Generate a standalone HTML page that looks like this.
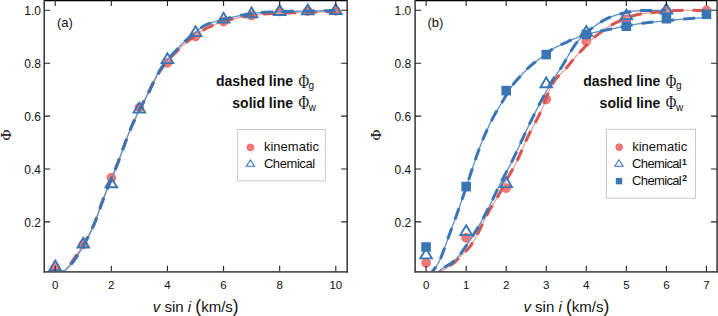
<!DOCTYPE html>
<html><head><meta charset="utf-8"><style>
html,body{margin:0;padding:0;background:#fff;}
body{width:718px;height:316px;overflow:hidden;font-family:"Liberation Sans",sans-serif;}
svg{display:block;}
</style></head><body>
<svg width="718" height="316" viewBox="0 0 718 316">
<defs><clipPath id="ca"><rect x="44.2" y="0" width="303" height="271.9"/></clipPath><clipPath id="cb"><rect x="415.1" y="0" width="302" height="271.9"/></clipPath></defs>
<circle cx="55.20" cy="267.80" r="4.4" fill="#f67878" stroke="#ee5c5c" stroke-width="0.8"/>
<circle cx="83.26" cy="244.50" r="4.4" fill="#f67878" stroke="#ee5c5c" stroke-width="0.8"/>
<circle cx="111.32" cy="177.70" r="4.4" fill="#f67878" stroke="#ee5c5c" stroke-width="0.8"/>
<circle cx="139.38" cy="107.50" r="4.4" fill="#f67878" stroke="#ee5c5c" stroke-width="0.8"/>
<circle cx="167.44" cy="62.80" r="4.4" fill="#f67878" stroke="#ee5c5c" stroke-width="0.8"/>
<circle cx="195.50" cy="36.50" r="4.4" fill="#f67878" stroke="#ee5c5c" stroke-width="0.8"/>
<circle cx="223.56" cy="21.60" r="4.4" fill="#f67878" stroke="#ee5c5c" stroke-width="0.8"/>
<circle cx="251.62" cy="15.50" r="4.4" fill="#f67878" stroke="#ee5c5c" stroke-width="0.8"/>
<circle cx="279.68" cy="11.50" r="4.4" fill="#f67878" stroke="#ee5c5c" stroke-width="0.8"/>
<circle cx="307.74" cy="11.00" r="4.4" fill="#f67878" stroke="#ee5c5c" stroke-width="0.8"/>
<circle cx="335.80" cy="10.80" r="4.4" fill="#f67878" stroke="#ee5c5c" stroke-width="0.8"/>
<path d="M60.50,274.60 L61.08,274.08 L61.65,273.55 L62.23,273.02 L62.80,272.48 L63.38,271.93 L63.95,271.38 L64.53,270.81 L65.10,270.23 L65.68,269.64 L66.25,269.02 L66.83,268.39 L67.40,267.74 L67.98,267.06 L68.55,266.37 L69.13,265.64 L69.70,264.89 L70.28,264.11 L70.85,263.32 L71.43,262.51 L72.00,261.69 L72.58,260.86 L73.15,260.03 L73.73,259.20 L74.30,258.37 L74.88,257.55 L75.45,256.73 L76.03,255.92 L76.60,255.10 L77.18,254.29 L77.75,253.46 L78.33,252.63 L78.90,251.79 L79.48,250.94 L80.06,250.08 L80.63,249.20 L81.21,248.30 L81.78,247.39 L82.36,246.46 L82.93,245.52 L83.51,244.57 L84.08,243.60 L84.66,242.61 L85.23,241.62 L85.81,240.61 L86.38,239.59 L86.96,238.55 L87.53,237.51 L88.11,236.45 L88.68,235.38 L89.26,234.30 L89.83,233.21 L90.41,232.10 L90.98,230.97 L91.56,229.81 L92.13,228.61 L92.71,227.38 L93.28,226.10 L93.86,224.78 L94.43,223.40 L95.01,221.97 L95.58,220.50 L96.16,218.98 L96.73,217.44 L97.31,215.86 L97.88,214.26 L98.46,212.64 L99.04,211.01 L99.61,209.37 L100.19,207.73 L100.76,206.10 L101.34,204.47 L101.91,202.86 L102.49,201.27 L103.06,199.70 L103.64,198.16 L104.21,196.65 L104.79,195.16 L105.36,193.70 L105.94,192.25 L106.51,190.81 L107.09,189.39 L107.66,187.99 L108.24,186.59 L108.81,185.20 L109.39,183.81 L109.96,182.43 L110.54,181.04 L111.11,179.65 L111.69,178.26 L112.26,176.87 L112.84,175.47 L113.41,174.06 L113.99,172.64 L114.56,171.22 L115.14,169.78 L115.71,168.33 L116.29,166.88 L116.86,165.41 L117.44,163.92 L118.02,162.42 L118.59,160.91 L119.17,159.38 L119.74,157.83 L120.32,156.27 L120.89,154.70 L121.47,153.12 L122.04,151.53 L122.62,149.94 L123.19,148.35 L123.77,146.76 L124.34,145.17 L124.92,143.59 L125.49,142.01 L126.07,140.45 L126.64,138.90 L127.22,137.37 L127.79,135.86 L128.37,134.37 L128.94,132.90 L129.52,131.46 L130.09,130.04 L130.67,128.66 L131.24,127.31 L131.82,125.97 L132.39,124.67 L132.97,123.38 L133.54,122.11 L134.12,120.85 L134.69,119.60 L135.27,118.37 L135.84,117.14 L136.42,115.93 L136.99,114.73 L137.57,113.54 L138.15,112.37 L138.72,111.21 L139.30,110.07 L139.87,108.95 L140.45,107.85 L141.02,106.76 L141.60,105.69 L142.17,104.63 L142.75,103.59 L143.32,102.54 L143.90,101.50 L144.47,100.46 L145.05,99.42 L145.62,98.37 L146.20,97.31 L146.77,96.24 L147.35,95.16 L147.92,94.05 L148.50,92.93 L149.07,91.79 L149.65,90.65 L150.22,89.49 L150.80,88.33 L151.37,87.16 L151.95,85.99 L152.52,84.83 L153.10,83.68 L153.67,82.53 L154.25,81.40 L154.82,80.29 L155.40,79.19 L155.97,78.11 L156.55,77.06 L157.13,76.02 L157.70,75.01 L158.28,74.02 L158.85,73.05 L159.43,72.10 L160.00,71.17 L160.58,70.27 L161.15,69.39 L161.73,68.53 L162.30,67.69 L162.88,66.88 L163.45,66.08 L164.03,65.31 L164.60,64.55 L165.18,63.82 L165.75,63.10 L166.33,62.39 L166.90,61.70 L167.48,61.03 L168.05,60.37 L168.63,59.72 L169.20,59.08 L169.78,58.46 L170.35,57.84 L170.93,57.23 L171.50,56.63 L172.08,56.04 L172.65,55.45 L173.23,54.86 L173.80,54.28 L174.38,53.71 L174.95,53.13 L175.53,52.56 L176.11,51.99 L176.68,51.41 L177.26,50.84 L177.83,50.26 L178.41,49.69 L178.98,49.11 L179.56,48.54 L180.13,47.98 L180.71,47.41 L181.28,46.85 L181.86,46.30 L182.43,45.76 L183.01,45.23 L183.58,44.70 L184.16,44.19 L184.73,43.69 L185.31,43.20 L185.88,42.72 L186.46,42.24 L187.03,41.77 L187.61,41.31 L188.18,40.86 L188.76,40.41 L189.33,39.96 L189.91,39.52 L190.48,39.08 L191.06,38.64 L191.63,38.21 L192.21,37.77 L192.78,37.33 L193.36,36.90 L193.93,36.47 L194.51,36.04 L195.09,35.61 L195.66,35.18 L196.24,34.76 L196.81,34.34 L197.39,33.93 L197.96,33.52 L198.54,33.11 L199.11,32.71 L199.69,32.32 L200.26,31.93 L200.84,31.55 L201.41,31.18 L201.99,30.82 L202.56,30.46 L203.14,30.12 L203.71,29.78 L204.29,29.45 L204.86,29.12 L205.44,28.81 L206.01,28.50 L206.59,28.20 L207.16,27.91 L207.74,27.62 L208.31,27.34 L208.89,27.07 L209.46,26.80 L210.04,26.54 L210.61,26.28 L211.19,26.02 L211.76,25.77 L212.34,25.53 L212.91,25.29 L213.49,25.05 L214.07,24.82 L214.64,24.59 L215.22,24.37 L215.79,24.15 L216.37,23.93 L216.94,23.72 L217.52,23.51 L218.09,23.31 L218.67,23.10 L219.24,22.91 L219.82,22.71 L220.39,22.52 L220.97,22.33 L221.54,22.14 L222.12,21.96 L222.69,21.78 L223.27,21.61 L223.84,21.43 L224.42,21.26 L224.99,21.09 L225.57,20.93 L226.14,20.77 L226.72,20.61 L227.29,20.45 L227.87,20.29 L228.44,20.14 L229.02,19.99 L229.59,19.84 L230.17,19.69 L230.74,19.55 L231.32,19.40 L231.89,19.26 L232.47,19.12 L233.05,18.98 L233.62,18.85 L234.20,18.71 L234.77,18.58 L235.35,18.45 L235.92,18.32 L236.50,18.19 L237.07,18.07 L237.65,17.94 L238.22,17.82 L238.80,17.70 L239.37,17.58 L239.95,17.46 L240.52,17.34 L241.10,17.23 L241.67,17.12 L242.25,17.01 L242.82,16.90 L243.40,16.79 L243.97,16.68 L244.55,16.58 L245.12,16.48 L245.70,16.38 L246.27,16.28 L246.85,16.19 L247.42,16.09 L248.00,16.00 L248.57,15.91 L249.15,15.82 L249.72,15.73 L250.30,15.64 L250.87,15.56 L251.45,15.48 L252.03,15.40 L252.60,15.32 L253.18,15.24 L253.75,15.16 L254.33,15.09 L254.90,15.02 L255.48,14.95 L256.05,14.88 L256.63,14.81 L257.20,14.74 L257.78,14.68 L258.35,14.62 L258.93,14.56 L259.50,14.50 L260.08,14.44 L260.65,14.38 L261.23,14.33 L261.80,14.27 L262.38,14.22 L262.95,14.17 L263.53,14.12 L264.10,14.07 L264.68,14.03 L265.25,13.98 L265.83,13.94 L266.40,13.90 L266.98,13.86 L267.55,13.82 L268.13,13.78 L268.70,13.74 L269.28,13.70 L269.85,13.67 L270.43,13.64 L271.01,13.60 L271.58,13.57 L272.16,13.54 L272.73,13.51 L273.31,13.48 L273.88,13.46 L274.46,13.43 L275.03,13.40 L275.61,13.38 L276.18,13.35 L276.76,13.33 L277.33,13.31 L277.91,13.28 L278.48,13.26 L279.06,13.24 L279.63,13.22 L280.21,13.20 L280.78,13.18 L281.36,13.16 L281.93,13.14 L282.51,13.12 L283.08,13.10 L283.66,13.09 L284.23,13.07 L284.81,13.05 L285.38,13.03 L285.96,13.02 L286.53,13.00 L287.11,12.98 L287.68,12.97 L288.26,12.95 L288.83,12.93 L289.41,12.92 L289.98,12.90 L290.56,12.88 L291.14,12.86 L291.71,12.85 L292.29,12.83 L292.86,12.81 L293.44,12.79 L294.01,12.77 L294.59,12.76 L295.16,12.74 L295.74,12.72 L296.31,12.70 L296.89,12.68 L297.46,12.66 L298.04,12.65 L298.61,12.63 L299.19,12.61 L299.76,12.59 L300.34,12.57 L300.91,12.55 L301.49,12.53 L302.06,12.52 L302.64,12.50 L303.21,12.48 L303.79,12.46 L304.36,12.44 L304.94,12.42 L305.51,12.41 L306.09,12.39 L306.66,12.37 L307.24,12.35 L307.81,12.34 L308.39,12.32 L308.96,12.30 L309.54,12.28 L310.12,12.27 L310.69,12.25 L311.27,12.23 L311.84,12.21 L312.42,12.20 L312.99,12.18 L313.57,12.17 L314.14,12.15 L314.72,12.13 L315.29,12.12 L315.87,12.10 L316.44,12.09 L317.02,12.07 L317.59,12.06 L318.17,12.04 L318.74,12.03 L319.32,12.02 L319.89,12.00 L320.47,11.99 L321.04,11.98 L321.62,11.96 L322.19,11.95 L322.77,11.94 L323.34,11.93 L323.92,11.92 L324.49,11.91 L325.07,11.90 L325.64,11.88 L326.22,11.87 L326.79,11.86 L327.37,11.85 L327.94,11.84 L328.52,11.83 L329.10,11.83 L329.67,11.82 L330.25,11.81 L330.82,11.80 L331.40,11.79 L331.97,11.78 L332.55,11.77 L333.12,11.77 L333.70,11.76 L334.27,11.75 L334.85,11.74 L335.42,11.73" fill="none" stroke="#f2a0a0" stroke-width="1.3" clip-path="url(#ca)"/><path d="M60.50,274.60 L61.08,274.08 L61.65,273.55 L62.23,273.02 L62.80,272.48 L63.38,271.93 L63.95,271.38 L64.53,270.81 L65.10,270.23 L65.68,269.64 L66.25,269.02 L66.83,268.39 L67.40,267.74 L67.98,267.06 L68.55,266.37 L69.13,265.64 L69.70,264.89 L70.28,264.11 L70.85,263.32 L71.43,262.51 L72.00,261.69 L72.58,260.86 L73.15,260.03 L73.73,259.20 L74.30,258.37 L74.88,257.55 L75.45,256.73 L76.03,255.92 L76.60,255.10 L77.18,254.29 L77.75,253.46 L78.33,252.63 L78.90,251.79 L79.48,250.94 L80.06,250.08 L80.63,249.20 L81.21,248.30 L81.78,247.39 L82.36,246.46 L82.93,245.52 L83.51,244.57 L84.08,243.60 L84.66,242.61 L85.23,241.62 L85.81,240.61 L86.38,239.59 L86.96,238.55 L87.53,237.51 L88.11,236.45 L88.68,235.38 L89.26,234.30 L89.83,233.21 L90.41,232.10 L90.98,230.97 L91.56,229.81 L92.13,228.61 L92.71,227.38 L93.28,226.10 L93.86,224.78 L94.43,223.40 L95.01,221.97 L95.58,220.50 L96.16,218.98 L96.73,217.44 L97.31,215.86 L97.88,214.26 L98.46,212.64 L99.04,211.01 L99.61,209.37 L100.19,207.73 L100.76,206.10 L101.34,204.47 L101.91,202.86 L102.49,201.27 L103.06,199.70 L103.64,198.16 L104.21,196.65 L104.79,195.16 L105.36,193.70 L105.94,192.25 L106.51,190.81 L107.09,189.39 L107.66,187.99 L108.24,186.59 L108.81,185.20 L109.39,183.81 L109.96,182.43 L110.54,181.04 L111.11,179.65 L111.69,178.26 L112.26,176.87 L112.84,175.47 L113.41,174.06 L113.99,172.64 L114.56,171.22 L115.14,169.78 L115.71,168.33 L116.29,166.88 L116.86,165.41 L117.44,163.92 L118.02,162.42 L118.59,160.91 L119.17,159.38 L119.74,157.83 L120.32,156.27 L120.89,154.70 L121.47,153.12 L122.04,151.53 L122.62,149.94 L123.19,148.35 L123.77,146.76 L124.34,145.17 L124.92,143.59 L125.49,142.01 L126.07,140.45 L126.64,138.90 L127.22,137.37 L127.79,135.86 L128.37,134.37 L128.94,132.90 L129.52,131.46 L130.09,130.04 L130.67,128.66 L131.24,127.31 L131.82,125.97 L132.39,124.67 L132.97,123.38 L133.54,122.11 L134.12,120.85 L134.69,119.60 L135.27,118.37 L135.84,117.14 L136.42,115.93 L136.99,114.73 L137.57,113.54 L138.15,112.37 L138.72,111.21 L139.30,110.07 L139.87,108.95 L140.45,107.85 L141.02,106.76 L141.60,105.69 L142.17,104.63 L142.75,103.59 L143.32,102.54 L143.90,101.50 L144.47,100.46 L145.05,99.42 L145.62,98.37 L146.20,97.31 L146.77,96.24 L147.35,95.16 L147.92,94.05 L148.50,92.93 L149.07,91.79 L149.65,90.65 L150.22,89.49 L150.80,88.33 L151.37,87.16 L151.95,85.99 L152.52,84.83 L153.10,83.68 L153.67,82.53 L154.25,81.40 L154.82,80.29 L155.40,79.19 L155.97,78.11 L156.55,77.06 L157.13,76.02 L157.70,75.01 L158.28,74.02 L158.85,73.05 L159.43,72.10 L160.00,71.17 L160.58,70.27 L161.15,69.39 L161.73,68.53 L162.30,67.69 L162.88,66.88 L163.45,66.08 L164.03,65.31 L164.60,64.55 L165.18,63.82 L165.75,63.10 L166.33,62.39 L166.90,61.70 L167.48,61.03 L168.05,60.37 L168.63,59.72 L169.20,59.08 L169.78,58.46 L170.35,57.84 L170.93,57.23 L171.50,56.63 L172.08,56.04 L172.65,55.45 L173.23,54.86 L173.80,54.28 L174.38,53.71 L174.95,53.13 L175.53,52.56 L176.11,51.99 L176.68,51.41 L177.26,50.84 L177.83,50.26 L178.41,49.69 L178.98,49.11 L179.56,48.54 L180.13,47.98 L180.71,47.41 L181.28,46.85 L181.86,46.30 L182.43,45.76 L183.01,45.23 L183.58,44.70 L184.16,44.19 L184.73,43.69 L185.31,43.20 L185.88,42.72 L186.46,42.24 L187.03,41.77 L187.61,41.31 L188.18,40.86 L188.76,40.41 L189.33,39.96 L189.91,39.52 L190.48,39.08 L191.06,38.64 L191.63,38.21 L192.21,37.77 L192.78,37.33 L193.36,36.90 L193.93,36.47 L194.51,36.04 L195.09,35.61 L195.66,35.18 L196.24,34.76 L196.81,34.34 L197.39,33.93 L197.96,33.52 L198.54,33.11 L199.11,32.71 L199.69,32.32 L200.26,31.93 L200.84,31.55 L201.41,31.18 L201.99,30.82 L202.56,30.46 L203.14,30.12 L203.71,29.78 L204.29,29.45 L204.86,29.12 L205.44,28.81 L206.01,28.50 L206.59,28.20 L207.16,27.91 L207.74,27.62 L208.31,27.34 L208.89,27.07 L209.46,26.80 L210.04,26.54 L210.61,26.28 L211.19,26.02 L211.76,25.77 L212.34,25.53 L212.91,25.29 L213.49,25.05 L214.07,24.82 L214.64,24.59 L215.22,24.37 L215.79,24.15 L216.37,23.93 L216.94,23.72 L217.52,23.51 L218.09,23.31 L218.67,23.10 L219.24,22.91 L219.82,22.71 L220.39,22.52 L220.97,22.33 L221.54,22.14 L222.12,21.96 L222.69,21.78 L223.27,21.61 L223.84,21.43 L224.42,21.26 L224.99,21.09 L225.57,20.93 L226.14,20.77 L226.72,20.61 L227.29,20.45 L227.87,20.29 L228.44,20.14 L229.02,19.99 L229.59,19.84 L230.17,19.69 L230.74,19.55 L231.32,19.40 L231.89,19.26 L232.47,19.12 L233.05,18.98 L233.62,18.85 L234.20,18.71 L234.77,18.58 L235.35,18.45 L235.92,18.32 L236.50,18.19 L237.07,18.07 L237.65,17.94 L238.22,17.82 L238.80,17.70 L239.37,17.58 L239.95,17.46 L240.52,17.34 L241.10,17.23 L241.67,17.12 L242.25,17.01 L242.82,16.90 L243.40,16.79 L243.97,16.68 L244.55,16.58 L245.12,16.48 L245.70,16.38 L246.27,16.28 L246.85,16.19 L247.42,16.09 L248.00,16.00 L248.57,15.91 L249.15,15.82 L249.72,15.73 L250.30,15.64 L250.87,15.56 L251.45,15.48 L252.03,15.40 L252.60,15.32 L253.18,15.24 L253.75,15.16 L254.33,15.09 L254.90,15.02 L255.48,14.95 L256.05,14.88 L256.63,14.81 L257.20,14.74 L257.78,14.68 L258.35,14.62 L258.93,14.56 L259.50,14.50 L260.08,14.44 L260.65,14.38 L261.23,14.33 L261.80,14.27 L262.38,14.22 L262.95,14.17 L263.53,14.12 L264.10,14.07 L264.68,14.03 L265.25,13.98 L265.83,13.94 L266.40,13.90 L266.98,13.86 L267.55,13.82 L268.13,13.78 L268.70,13.74 L269.28,13.70 L269.85,13.67 L270.43,13.64 L271.01,13.60 L271.58,13.57 L272.16,13.54 L272.73,13.51 L273.31,13.48 L273.88,13.46 L274.46,13.43 L275.03,13.40 L275.61,13.38 L276.18,13.35 L276.76,13.33 L277.33,13.31 L277.91,13.28 L278.48,13.26 L279.06,13.24 L279.63,13.22 L280.21,13.20 L280.78,13.18 L281.36,13.16 L281.93,13.14 L282.51,13.12 L283.08,13.10 L283.66,13.09 L284.23,13.07 L284.81,13.05 L285.38,13.03 L285.96,13.02 L286.53,13.00 L287.11,12.98 L287.68,12.97 L288.26,12.95 L288.83,12.93 L289.41,12.92 L289.98,12.90 L290.56,12.88 L291.14,12.86 L291.71,12.85 L292.29,12.83 L292.86,12.81 L293.44,12.79 L294.01,12.77 L294.59,12.76 L295.16,12.74 L295.74,12.72 L296.31,12.70 L296.89,12.68 L297.46,12.66 L298.04,12.65 L298.61,12.63 L299.19,12.61 L299.76,12.59 L300.34,12.57 L300.91,12.55 L301.49,12.53 L302.06,12.52 L302.64,12.50 L303.21,12.48 L303.79,12.46 L304.36,12.44 L304.94,12.42 L305.51,12.41 L306.09,12.39 L306.66,12.37 L307.24,12.35 L307.81,12.34 L308.39,12.32 L308.96,12.30 L309.54,12.28 L310.12,12.27 L310.69,12.25 L311.27,12.23 L311.84,12.21 L312.42,12.20 L312.99,12.18 L313.57,12.17 L314.14,12.15 L314.72,12.13 L315.29,12.12 L315.87,12.10 L316.44,12.09 L317.02,12.07 L317.59,12.06 L318.17,12.04 L318.74,12.03 L319.32,12.02 L319.89,12.00 L320.47,11.99 L321.04,11.98 L321.62,11.96 L322.19,11.95 L322.77,11.94 L323.34,11.93 L323.92,11.92 L324.49,11.91 L325.07,11.90 L325.64,11.88 L326.22,11.87 L326.79,11.86 L327.37,11.85 L327.94,11.84 L328.52,11.83 L329.10,11.83 L329.67,11.82 L330.25,11.81 L330.82,11.80 L331.40,11.79 L331.97,11.78 L332.55,11.77 L333.12,11.77 L333.70,11.76 L334.27,11.75 L334.85,11.74 L335.42,11.73" fill="none" stroke="#d9534f" stroke-width="3.0" stroke-dasharray="12 9" stroke-dashoffset="6.631031221076084" clip-path="url(#ca)"/>
<path d="M60.50,274.58 L61.08,274.09 L61.65,273.60 L62.23,273.11 L62.80,272.61 L63.38,272.10 L63.95,271.59 L64.53,271.07 L65.10,270.54 L65.68,270.00 L66.25,269.44 L66.83,268.88 L67.40,268.31 L67.98,267.72 L68.55,267.12 L69.13,266.50 L69.70,265.87 L70.28,265.22 L70.85,264.56 L71.43,263.88 L72.00,263.18 L72.58,262.47 L73.15,261.73 L73.73,260.97 L74.30,260.20 L74.88,259.40 L75.45,258.58 L76.03,257.74 L76.60,256.87 L77.18,255.99 L77.75,255.09 L78.33,254.17 L78.90,253.23 L79.48,252.28 L80.06,251.32 L80.63,250.35 L81.21,249.37 L81.78,248.38 L82.36,247.38 L82.93,246.37 L83.51,245.36 L84.08,244.33 L84.66,243.29 L85.23,242.25 L85.81,241.19 L86.38,240.12 L86.96,239.05 L87.53,237.96 L88.11,236.86 L88.68,235.75 L89.26,234.63 L89.83,233.49 L90.41,232.34 L90.98,231.17 L91.56,229.97 L92.13,228.74 L92.71,227.47 L93.28,226.17 L93.86,224.82 L94.43,223.42 L95.01,221.97 L95.58,220.48 L96.16,218.96 L96.73,217.40 L97.31,215.82 L97.88,214.22 L98.46,212.60 L99.04,210.97 L99.61,209.33 L100.19,207.69 L100.76,206.06 L101.34,204.44 L101.91,202.83 L102.49,201.25 L103.06,199.69 L103.64,198.15 L104.21,196.64 L104.79,195.16 L105.36,193.69 L105.94,192.24 L106.51,190.81 L107.09,189.39 L107.66,187.99 L108.24,186.59 L108.81,185.20 L109.39,183.81 L109.96,182.43 L110.54,181.04 L111.11,179.66 L111.69,178.27 L112.26,176.87 L112.84,175.47 L113.41,174.06 L113.99,172.64 L114.56,171.22 L115.14,169.78 L115.71,168.34 L116.29,166.88 L116.86,165.41 L117.44,163.92 L118.02,162.42 L118.59,160.91 L119.17,159.38 L119.74,157.83 L120.32,156.27 L120.89,154.70 L121.47,153.12 L122.04,151.53 L122.62,149.94 L123.19,148.34 L123.77,146.75 L124.34,145.17 L124.92,143.58 L125.49,142.01 L126.07,140.45 L126.64,138.90 L127.22,137.37 L127.79,135.86 L128.37,134.37 L128.94,132.90 L129.52,131.46 L130.09,130.05 L130.67,128.66 L131.24,127.31 L131.82,125.98 L132.39,124.67 L132.97,123.39 L133.54,122.12 L134.12,120.86 L134.69,119.62 L135.27,118.38 L135.84,117.16 L136.42,115.95 L136.99,114.74 L137.57,113.56 L138.15,112.38 L138.72,111.22 L139.30,110.07 L139.87,108.94 L140.45,107.82 L141.02,106.72 L141.60,105.64 L142.17,104.56 L142.75,103.48 L143.32,102.41 L143.90,101.34 L144.47,100.27 L145.05,99.19 L145.62,98.11 L146.20,97.01 L146.77,95.89 L147.35,94.76 L147.92,93.60 L148.50,92.43 L149.07,91.24 L149.65,90.04 L150.22,88.84 L150.80,87.63 L151.37,86.42 L151.95,85.21 L152.52,84.01 L153.10,82.82 L153.67,81.64 L154.25,80.48 L154.82,79.34 L155.40,78.23 L155.97,77.13 L156.55,76.06 L157.13,75.01 L157.70,73.99 L158.28,72.99 L158.85,72.01 L159.43,71.05 L160.00,70.11 L160.58,69.20 L161.15,68.32 L161.73,67.45 L162.30,66.61 L162.88,65.79 L163.45,64.98 L164.03,64.20 L164.60,63.43 L165.18,62.68 L165.75,61.95 L166.33,61.23 L166.90,60.52 L167.48,59.83 L168.05,59.15 L168.63,58.48 L169.20,57.82 L169.78,57.17 L170.35,56.52 L170.93,55.89 L171.50,55.25 L172.08,54.63 L172.65,54.01 L173.23,53.39 L173.80,52.77 L174.38,52.15 L174.95,51.54 L175.53,50.92 L176.11,50.30 L176.68,49.68 L177.26,49.05 L177.83,48.43 L178.41,47.80 L178.98,47.17 L179.56,46.54 L180.13,45.92 L180.71,45.31 L181.28,44.70 L181.86,44.11 L182.43,43.52 L183.01,42.95 L183.58,42.40 L184.16,41.86 L184.73,41.33 L185.31,40.82 L185.88,40.32 L186.46,39.83 L187.03,39.35 L187.61,38.88 L188.18,38.41 L188.76,37.95 L189.33,37.48 L189.91,37.02 L190.48,36.55 L191.06,36.08 L191.63,35.60 L192.21,35.12 L192.78,34.63 L193.36,34.14 L193.93,33.64 L194.51,33.14 L195.09,32.64 L195.66,32.14 L196.24,31.65 L196.81,31.15 L197.39,30.67 L197.96,30.19 L198.54,29.71 L199.11,29.25 L199.69,28.80 L200.26,28.36 L200.84,27.93 L201.41,27.52 L201.99,27.13 L202.56,26.75 L203.14,26.40 L203.71,26.06 L204.29,25.74 L204.86,25.43 L205.44,25.14 L206.01,24.87 L206.59,24.60 L207.16,24.35 L207.74,24.11 L208.31,23.89 L208.89,23.66 L209.46,23.45 L210.04,23.25 L210.61,23.05 L211.19,22.85 L211.76,22.66 L212.34,22.47 L212.91,22.29 L213.49,22.10 L214.07,21.92 L214.64,21.75 L215.22,21.57 L215.79,21.40 L216.37,21.23 L216.94,21.07 L217.52,20.90 L218.09,20.74 L218.67,20.58 L219.24,20.42 L219.82,20.27 L220.39,20.11 L220.97,19.96 L221.54,19.81 L222.12,19.66 L222.69,19.52 L223.27,19.37 L223.84,19.23 L224.42,19.09 L224.99,18.95 L225.57,18.81 L226.14,18.67 L226.72,18.53 L227.29,18.40 L227.87,18.26 L228.44,18.13 L229.02,17.99 L229.59,17.86 L230.17,17.73 L230.74,17.60 L231.32,17.47 L231.89,17.34 L232.47,17.21 L233.05,17.08 L233.62,16.95 L234.20,16.82 L234.77,16.69 L235.35,16.57 L235.92,16.44 L236.50,16.31 L237.07,16.19 L237.65,16.06 L238.22,15.94 L238.80,15.82 L239.37,15.70 L239.95,15.58 L240.52,15.46 L241.10,15.34 L241.67,15.23 L242.25,15.12 L242.82,15.01 L243.40,14.90 L243.97,14.79 L244.55,14.69 L245.12,14.59 L245.70,14.49 L246.27,14.39 L246.85,14.29 L247.42,14.20 L248.00,14.11 L248.57,14.02 L249.15,13.94 L249.72,13.86 L250.30,13.77 L250.87,13.69 L251.45,13.62 L252.03,13.54 L252.60,13.47 L253.18,13.40 L253.75,13.33 L254.33,13.26 L254.90,13.19 L255.48,13.13 L256.05,13.07 L256.63,13.01 L257.20,12.95 L257.78,12.89 L258.35,12.84 L258.93,12.78 L259.50,12.73 L260.08,12.68 L260.65,12.63 L261.23,12.58 L261.80,12.54 L262.38,12.49 L262.95,12.45 L263.53,12.40 L264.10,12.36 L264.68,12.32 L265.25,12.28 L265.83,12.24 L266.40,12.21 L266.98,12.17 L267.55,12.14 L268.13,12.10 L268.70,12.07 L269.28,12.04 L269.85,12.01 L270.43,11.98 L271.01,11.95 L271.58,11.92 L272.16,11.89 L272.73,11.87 L273.31,11.84 L273.88,11.82 L274.46,11.79 L275.03,11.77 L275.61,11.75 L276.18,11.72 L276.76,11.70 L277.33,11.68 L277.91,11.66 L278.48,11.64 L279.06,11.63 L279.63,11.61 L280.21,11.59 L280.78,11.57 L281.36,11.56 L281.93,11.54 L282.51,11.53 L283.08,11.51 L283.66,11.50 L284.23,11.49 L284.81,11.47 L285.38,11.46 L285.96,11.45 L286.53,11.44 L287.11,11.42 L287.68,11.41 L288.26,11.40 L288.83,11.39 L289.41,11.38 L289.98,11.37 L290.56,11.36 L291.14,11.35 L291.71,11.34 L292.29,11.33 L292.86,11.32 L293.44,11.31 L294.01,11.30 L294.59,11.29 L295.16,11.28 L295.74,11.27 L296.31,11.26 L296.89,11.25 L297.46,11.24 L298.04,11.23 L298.61,11.22 L299.19,11.21 L299.76,11.20 L300.34,11.19 L300.91,11.18 L301.49,11.17 L302.06,11.16 L302.64,11.15 L303.21,11.14 L303.79,11.13 L304.36,11.12 L304.94,11.11 L305.51,11.09 L306.09,11.08 L306.66,11.07 L307.24,11.06 L307.81,11.05 L308.39,11.03 L308.96,11.02 L309.54,11.01 L310.12,11.00 L310.69,10.99 L311.27,10.97 L311.84,10.96 L312.42,10.95 L312.99,10.94 L313.57,10.93 L314.14,10.91 L314.72,10.90 L315.29,10.89 L315.87,10.88 L316.44,10.87 L317.02,10.85 L317.59,10.84 L318.17,10.83 L318.74,10.82 L319.32,10.81 L319.89,10.80 L320.47,10.79 L321.04,10.77 L321.62,10.76 L322.19,10.75 L322.77,10.74 L323.34,10.73 L323.92,10.72 L324.49,10.71 L325.07,10.70 L325.64,10.69 L326.22,10.68 L326.79,10.67 L327.37,10.66 L327.94,10.65 L328.52,10.64 L329.10,10.63 L329.67,10.62 L330.25,10.62 L330.82,10.61 L331.40,10.60 L331.97,10.59 L332.55,10.58 L333.12,10.57 L333.70,10.57 L334.27,10.56 L334.85,10.55 L335.42,10.54" fill="none" stroke="#5b8fc6" stroke-width="1.3" clip-path="url(#ca)"/><path d="M60.50,274.58 L61.08,274.09 L61.65,273.60 L62.23,273.11 L62.80,272.61 L63.38,272.10 L63.95,271.59 L64.53,271.07 L65.10,270.54 L65.68,270.00 L66.25,269.44 L66.83,268.88 L67.40,268.31 L67.98,267.72 L68.55,267.12 L69.13,266.50 L69.70,265.87 L70.28,265.22 L70.85,264.56 L71.43,263.88 L72.00,263.18 L72.58,262.47 L73.15,261.73 L73.73,260.97 L74.30,260.20 L74.88,259.40 L75.45,258.58 L76.03,257.74 L76.60,256.87 L77.18,255.99 L77.75,255.09 L78.33,254.17 L78.90,253.23 L79.48,252.28 L80.06,251.32 L80.63,250.35 L81.21,249.37 L81.78,248.38 L82.36,247.38 L82.93,246.37 L83.51,245.36 L84.08,244.33 L84.66,243.29 L85.23,242.25 L85.81,241.19 L86.38,240.12 L86.96,239.05 L87.53,237.96 L88.11,236.86 L88.68,235.75 L89.26,234.63 L89.83,233.49 L90.41,232.34 L90.98,231.17 L91.56,229.97 L92.13,228.74 L92.71,227.47 L93.28,226.17 L93.86,224.82 L94.43,223.42 L95.01,221.97 L95.58,220.48 L96.16,218.96 L96.73,217.40 L97.31,215.82 L97.88,214.22 L98.46,212.60 L99.04,210.97 L99.61,209.33 L100.19,207.69 L100.76,206.06 L101.34,204.44 L101.91,202.83 L102.49,201.25 L103.06,199.69 L103.64,198.15 L104.21,196.64 L104.79,195.16 L105.36,193.69 L105.94,192.24 L106.51,190.81 L107.09,189.39 L107.66,187.99 L108.24,186.59 L108.81,185.20 L109.39,183.81 L109.96,182.43 L110.54,181.04 L111.11,179.66 L111.69,178.27 L112.26,176.87 L112.84,175.47 L113.41,174.06 L113.99,172.64 L114.56,171.22 L115.14,169.78 L115.71,168.34 L116.29,166.88 L116.86,165.41 L117.44,163.92 L118.02,162.42 L118.59,160.91 L119.17,159.38 L119.74,157.83 L120.32,156.27 L120.89,154.70 L121.47,153.12 L122.04,151.53 L122.62,149.94 L123.19,148.34 L123.77,146.75 L124.34,145.17 L124.92,143.58 L125.49,142.01 L126.07,140.45 L126.64,138.90 L127.22,137.37 L127.79,135.86 L128.37,134.37 L128.94,132.90 L129.52,131.46 L130.09,130.05 L130.67,128.66 L131.24,127.31 L131.82,125.98 L132.39,124.67 L132.97,123.39 L133.54,122.12 L134.12,120.86 L134.69,119.62 L135.27,118.38 L135.84,117.16 L136.42,115.95 L136.99,114.74 L137.57,113.56 L138.15,112.38 L138.72,111.22 L139.30,110.07 L139.87,108.94 L140.45,107.82 L141.02,106.72 L141.60,105.64 L142.17,104.56 L142.75,103.48 L143.32,102.41 L143.90,101.34 L144.47,100.27 L145.05,99.19 L145.62,98.11 L146.20,97.01 L146.77,95.89 L147.35,94.76 L147.92,93.60 L148.50,92.43 L149.07,91.24 L149.65,90.04 L150.22,88.84 L150.80,87.63 L151.37,86.42 L151.95,85.21 L152.52,84.01 L153.10,82.82 L153.67,81.64 L154.25,80.48 L154.82,79.34 L155.40,78.23 L155.97,77.13 L156.55,76.06 L157.13,75.01 L157.70,73.99 L158.28,72.99 L158.85,72.01 L159.43,71.05 L160.00,70.11 L160.58,69.20 L161.15,68.32 L161.73,67.45 L162.30,66.61 L162.88,65.79 L163.45,64.98 L164.03,64.20 L164.60,63.43 L165.18,62.68 L165.75,61.95 L166.33,61.23 L166.90,60.52 L167.48,59.83 L168.05,59.15 L168.63,58.48 L169.20,57.82 L169.78,57.17 L170.35,56.52 L170.93,55.89 L171.50,55.25 L172.08,54.63 L172.65,54.01 L173.23,53.39 L173.80,52.77 L174.38,52.15 L174.95,51.54 L175.53,50.92 L176.11,50.30 L176.68,49.68 L177.26,49.05 L177.83,48.43 L178.41,47.80 L178.98,47.17 L179.56,46.54 L180.13,45.92 L180.71,45.31 L181.28,44.70 L181.86,44.11 L182.43,43.52 L183.01,42.95 L183.58,42.40 L184.16,41.86 L184.73,41.33 L185.31,40.82 L185.88,40.32 L186.46,39.83 L187.03,39.35 L187.61,38.88 L188.18,38.41 L188.76,37.95 L189.33,37.48 L189.91,37.02 L190.48,36.55 L191.06,36.08 L191.63,35.60 L192.21,35.12 L192.78,34.63 L193.36,34.14 L193.93,33.64 L194.51,33.14 L195.09,32.64 L195.66,32.14 L196.24,31.65 L196.81,31.15 L197.39,30.67 L197.96,30.19 L198.54,29.71 L199.11,29.25 L199.69,28.80 L200.26,28.36 L200.84,27.93 L201.41,27.52 L201.99,27.13 L202.56,26.75 L203.14,26.40 L203.71,26.06 L204.29,25.74 L204.86,25.43 L205.44,25.14 L206.01,24.87 L206.59,24.60 L207.16,24.35 L207.74,24.11 L208.31,23.89 L208.89,23.66 L209.46,23.45 L210.04,23.25 L210.61,23.05 L211.19,22.85 L211.76,22.66 L212.34,22.47 L212.91,22.29 L213.49,22.10 L214.07,21.92 L214.64,21.75 L215.22,21.57 L215.79,21.40 L216.37,21.23 L216.94,21.07 L217.52,20.90 L218.09,20.74 L218.67,20.58 L219.24,20.42 L219.82,20.27 L220.39,20.11 L220.97,19.96 L221.54,19.81 L222.12,19.66 L222.69,19.52 L223.27,19.37 L223.84,19.23 L224.42,19.09 L224.99,18.95 L225.57,18.81 L226.14,18.67 L226.72,18.53 L227.29,18.40 L227.87,18.26 L228.44,18.13 L229.02,17.99 L229.59,17.86 L230.17,17.73 L230.74,17.60 L231.32,17.47 L231.89,17.34 L232.47,17.21 L233.05,17.08 L233.62,16.95 L234.20,16.82 L234.77,16.69 L235.35,16.57 L235.92,16.44 L236.50,16.31 L237.07,16.19 L237.65,16.06 L238.22,15.94 L238.80,15.82 L239.37,15.70 L239.95,15.58 L240.52,15.46 L241.10,15.34 L241.67,15.23 L242.25,15.12 L242.82,15.01 L243.40,14.90 L243.97,14.79 L244.55,14.69 L245.12,14.59 L245.70,14.49 L246.27,14.39 L246.85,14.29 L247.42,14.20 L248.00,14.11 L248.57,14.02 L249.15,13.94 L249.72,13.86 L250.30,13.77 L250.87,13.69 L251.45,13.62 L252.03,13.54 L252.60,13.47 L253.18,13.40 L253.75,13.33 L254.33,13.26 L254.90,13.19 L255.48,13.13 L256.05,13.07 L256.63,13.01 L257.20,12.95 L257.78,12.89 L258.35,12.84 L258.93,12.78 L259.50,12.73 L260.08,12.68 L260.65,12.63 L261.23,12.58 L261.80,12.54 L262.38,12.49 L262.95,12.45 L263.53,12.40 L264.10,12.36 L264.68,12.32 L265.25,12.28 L265.83,12.24 L266.40,12.21 L266.98,12.17 L267.55,12.14 L268.13,12.10 L268.70,12.07 L269.28,12.04 L269.85,12.01 L270.43,11.98 L271.01,11.95 L271.58,11.92 L272.16,11.89 L272.73,11.87 L273.31,11.84 L273.88,11.82 L274.46,11.79 L275.03,11.77 L275.61,11.75 L276.18,11.72 L276.76,11.70 L277.33,11.68 L277.91,11.66 L278.48,11.64 L279.06,11.63 L279.63,11.61 L280.21,11.59 L280.78,11.57 L281.36,11.56 L281.93,11.54 L282.51,11.53 L283.08,11.51 L283.66,11.50 L284.23,11.49 L284.81,11.47 L285.38,11.46 L285.96,11.45 L286.53,11.44 L287.11,11.42 L287.68,11.41 L288.26,11.40 L288.83,11.39 L289.41,11.38 L289.98,11.37 L290.56,11.36 L291.14,11.35 L291.71,11.34 L292.29,11.33 L292.86,11.32 L293.44,11.31 L294.01,11.30 L294.59,11.29 L295.16,11.28 L295.74,11.27 L296.31,11.26 L296.89,11.25 L297.46,11.24 L298.04,11.23 L298.61,11.22 L299.19,11.21 L299.76,11.20 L300.34,11.19 L300.91,11.18 L301.49,11.17 L302.06,11.16 L302.64,11.15 L303.21,11.14 L303.79,11.13 L304.36,11.12 L304.94,11.11 L305.51,11.09 L306.09,11.08 L306.66,11.07 L307.24,11.06 L307.81,11.05 L308.39,11.03 L308.96,11.02 L309.54,11.01 L310.12,11.00 L310.69,10.99 L311.27,10.97 L311.84,10.96 L312.42,10.95 L312.99,10.94 L313.57,10.93 L314.14,10.91 L314.72,10.90 L315.29,10.89 L315.87,10.88 L316.44,10.87 L317.02,10.85 L317.59,10.84 L318.17,10.83 L318.74,10.82 L319.32,10.81 L319.89,10.80 L320.47,10.79 L321.04,10.77 L321.62,10.76 L322.19,10.75 L322.77,10.74 L323.34,10.73 L323.92,10.72 L324.49,10.71 L325.07,10.70 L325.64,10.69 L326.22,10.68 L326.79,10.67 L327.37,10.66 L327.94,10.65 L328.52,10.64 L329.10,10.63 L329.67,10.62 L330.25,10.62 L330.82,10.61 L331.40,10.60 L331.97,10.59 L332.55,10.58 L333.12,10.57 L333.70,10.57 L334.27,10.56 L334.85,10.55 L335.42,10.54" fill="none" stroke="#3a76b4" stroke-width="3.0" stroke-dasharray="12 9" stroke-dashoffset="6.574009670697343" clip-path="url(#ca)"/>
<path d="M55.20,260.50 L61.00,270.30 L49.40,270.30 Z" fill="none" stroke="#3a76b4" stroke-width="1.9" stroke-linejoin="miter"/>
<path d="M83.26,237.75 L89.06,247.55 L77.46,247.55 Z" fill="none" stroke="#3a76b4" stroke-width="1.9" stroke-linejoin="miter"/>
<path d="M111.32,177.40 L117.12,187.20 L105.52,187.20 Z" fill="none" stroke="#3a76b4" stroke-width="1.9" stroke-linejoin="miter"/>
<path d="M139.38,102.80 L145.18,112.60 L133.58,112.60 Z" fill="none" stroke="#3a76b4" stroke-width="1.9" stroke-linejoin="miter"/>
<path d="M167.44,53.30 L173.24,63.10 L161.64,63.10 Z" fill="none" stroke="#3a76b4" stroke-width="1.9" stroke-linejoin="miter"/>
<path d="M195.50,26.30 L201.30,36.10 L189.70,36.10 Z" fill="none" stroke="#3a76b4" stroke-width="1.9" stroke-linejoin="miter"/>
<path d="M223.56,12.80 L229.36,22.60 L217.76,22.60 Z" fill="none" stroke="#3a76b4" stroke-width="1.9" stroke-linejoin="miter"/>
<path d="M251.62,7.45 L257.42,17.25 L245.82,17.25 Z" fill="none" stroke="#3a76b4" stroke-width="1.9" stroke-linejoin="miter"/>
<path d="M279.68,5.20 L285.48,15.00 L273.88,15.00 Z" fill="none" stroke="#3a76b4" stroke-width="1.9" stroke-linejoin="miter"/>
<path d="M307.74,4.60 L313.54,14.40 L301.94,14.40 Z" fill="none" stroke="#3a76b4" stroke-width="1.9" stroke-linejoin="miter"/>
<path d="M335.80,4.25 L341.60,14.05 L330.00,14.05 Z" fill="none" stroke="#3a76b4" stroke-width="1.9" stroke-linejoin="miter"/>
<circle cx="426.10" cy="262.80" r="4.4" fill="#f67878" stroke="#ee5c5c" stroke-width="0.8"/>
<circle cx="466.15" cy="237.80" r="4.4" fill="#f67878" stroke="#ee5c5c" stroke-width="0.8"/>
<circle cx="506.20" cy="188.10" r="4.4" fill="#f67878" stroke="#ee5c5c" stroke-width="0.8"/>
<circle cx="546.25" cy="99.30" r="4.4" fill="#f67878" stroke="#ee5c5c" stroke-width="0.8"/>
<circle cx="586.30" cy="41.60" r="4.4" fill="#f67878" stroke="#ee5c5c" stroke-width="0.8"/>
<circle cx="626.35" cy="19.50" r="4.4" fill="#f67878" stroke="#ee5c5c" stroke-width="0.8"/>
<circle cx="666.40" cy="11.00" r="4.4" fill="#f67878" stroke="#ee5c5c" stroke-width="0.8"/>
<circle cx="706.45" cy="10.40" r="4.4" fill="#f67878" stroke="#ee5c5c" stroke-width="0.8"/>
<path d="M437.80,274.46 L438.36,274.01 L438.92,273.57 L439.48,273.12 L440.04,272.68 L440.60,272.24 L441.16,271.80 L441.72,271.37 L442.28,270.94 L442.84,270.52 L443.41,270.09 L443.97,269.68 L444.53,269.27 L445.09,268.86 L445.65,268.46 L446.21,268.07 L446.77,267.68 L447.33,267.30 L447.89,266.93 L448.45,266.56 L449.01,266.19 L449.57,265.83 L450.13,265.47 L450.69,265.10 L451.25,264.73 L451.81,264.35 L452.37,263.96 L452.93,263.55 L453.49,263.14 L454.06,262.70 L454.62,262.25 L455.18,261.77 L455.74,261.27 L456.30,260.74 L456.86,260.20 L457.42,259.64 L457.98,259.08 L458.54,258.50 L459.10,257.92 L459.66,257.34 L460.22,256.76 L460.78,256.19 L461.34,255.63 L461.90,255.08 L462.46,254.54 L463.02,254.00 L463.58,253.46 L464.14,252.92 L464.71,252.38 L465.27,251.83 L465.83,251.27 L466.39,250.70 L466.95,250.10 L467.51,249.50 L468.07,248.86 L468.63,248.21 L469.19,247.52 L469.75,246.81 L470.31,246.06 L470.87,245.29 L471.43,244.48 L471.99,243.65 L472.55,242.79 L473.11,241.90 L473.67,240.98 L474.23,240.03 L474.79,239.06 L475.35,238.06 L475.92,237.04 L476.48,236.00 L477.04,234.94 L477.60,233.86 L478.16,232.76 L478.72,231.65 L479.28,230.53 L479.84,229.40 L480.40,228.26 L480.96,227.12 L481.52,225.97 L482.08,224.81 L482.64,223.66 L483.20,222.51 L483.76,221.36 L484.32,220.22 L484.88,219.08 L485.44,217.95 L486.00,216.83 L486.57,215.73 L487.13,214.64 L487.69,213.56 L488.25,212.51 L488.81,211.47 L489.37,210.46 L489.93,209.47 L490.49,208.50 L491.05,207.56 L491.61,206.63 L492.17,205.72 L492.73,204.82 L493.29,203.93 L493.85,203.04 L494.41,202.14 L494.97,201.25 L495.53,200.35 L496.09,199.43 L496.65,198.51 L497.22,197.56 L497.78,196.59 L498.34,195.59 L498.90,194.58 L499.46,193.54 L500.02,192.49 L500.58,191.43 L501.14,190.35 L501.70,189.27 L502.26,188.18 L502.82,187.10 L503.38,186.01 L503.94,184.93 L504.50,183.86 L505.06,182.79 L505.62,181.74 L506.18,180.71 L506.74,179.69 L507.30,178.69 L507.87,177.69 L508.43,176.71 L508.99,175.73 L509.55,174.75 L510.11,173.77 L510.67,172.80 L511.23,171.82 L511.79,170.83 L512.35,169.84 L512.91,168.83 L513.47,167.82 L514.03,166.79 L514.59,165.74 L515.15,164.67 L515.71,163.58 L516.27,162.47 L516.83,161.33 L517.39,160.16 L517.95,158.97 L518.52,157.75 L519.08,156.51 L519.64,155.25 L520.20,153.98 L520.76,152.70 L521.32,151.41 L521.88,150.12 L522.44,148.82 L523.00,147.53 L523.56,146.24 L524.12,144.96 L524.68,143.69 L525.24,142.44 L525.80,141.20 L526.36,139.99 L526.92,138.79 L527.48,137.61 L528.04,136.45 L528.60,135.30 L529.16,134.16 L529.73,133.04 L530.29,131.94 L530.85,130.84 L531.41,129.75 L531.97,128.67 L532.53,127.60 L533.09,126.54 L533.65,125.48 L534.21,124.43 L534.77,123.38 L535.33,122.33 L535.89,121.29 L536.45,120.24 L537.01,119.19 L537.57,118.14 L538.13,117.08 L538.69,115.99 L539.25,114.89 L539.81,113.76 L540.38,112.59 L540.94,111.39 L541.50,110.14 L542.06,108.84 L542.62,107.49 L543.18,106.10 L543.74,104.67 L544.30,103.22 L544.86,101.75 L545.42,100.27 L545.98,98.79 L546.54,97.32 L547.10,95.86 L547.66,94.42 L548.22,93.01 L548.78,91.63 L549.34,90.30 L549.90,89.02 L550.46,87.80 L551.03,86.64 L551.59,85.55 L552.15,84.52 L552.71,83.54 L553.27,82.62 L553.83,81.75 L554.39,80.93 L554.95,80.14 L555.51,79.40 L556.07,78.70 L556.63,78.03 L557.19,77.39 L557.75,76.77 L558.31,76.17 L558.87,75.60 L559.43,75.04 L559.99,74.49 L560.55,73.95 L561.11,73.42 L561.68,72.88 L562.24,72.35 L562.80,71.81 L563.36,71.26 L563.92,70.69 L564.48,70.11 L565.04,69.51 L565.60,68.89 L566.16,68.25 L566.72,67.60 L567.28,66.93 L567.84,66.24 L568.40,65.55 L568.96,64.85 L569.52,64.14 L570.08,63.44 L570.64,62.73 L571.20,62.02 L571.76,61.32 L572.33,60.63 L572.89,59.95 L573.45,59.28 L574.01,58.61 L574.57,57.96 L575.13,57.32 L575.69,56.69 L576.25,56.06 L576.81,55.44 L577.37,54.83 L577.93,54.22 L578.49,53.62 L579.05,53.02 L579.61,52.43 L580.17,51.84 L580.73,51.26 L581.29,50.67 L581.85,50.09 L582.41,49.51 L582.97,48.93 L583.54,48.35 L584.10,47.76 L584.66,47.18 L585.22,46.59 L585.78,46.00 L586.34,45.41 L586.90,44.81 L587.46,44.22 L588.02,43.63 L588.58,43.04 L589.14,42.45 L589.70,41.87 L590.26,41.29 L590.82,40.72 L591.38,40.16 L591.94,39.60 L592.50,39.06 L593.06,38.52 L593.62,38.00 L594.19,37.49 L594.75,36.99 L595.31,36.51 L595.87,36.04 L596.43,35.58 L596.99,35.14 L597.55,34.70 L598.11,34.27 L598.67,33.85 L599.23,33.42 L599.79,33.00 L600.35,32.58 L600.91,32.16 L601.47,31.74 L602.03,31.32 L602.59,30.89 L603.15,30.48 L603.71,30.06 L604.27,29.65 L604.84,29.24 L605.40,28.84 L605.96,28.45 L606.52,28.06 L607.08,27.68 L607.64,27.31 L608.20,26.95 L608.76,26.60 L609.32,26.25 L609.88,25.92 L610.44,25.59 L611.00,25.27 L611.56,24.96 L612.12,24.66 L612.68,24.36 L613.24,24.07 L613.80,23.78 L614.36,23.50 L614.92,23.23 L615.49,22.96 L616.05,22.69 L616.61,22.43 L617.17,22.17 L617.73,21.91 L618.29,21.66 L618.85,21.41 L619.41,21.16 L619.97,20.91 L620.53,20.66 L621.09,20.42 L621.65,20.17 L622.21,19.93 L622.77,19.69 L623.33,19.45 L623.89,19.21 L624.45,18.97 L625.01,18.74 L625.57,18.51 L626.14,18.28 L626.70,18.05 L627.26,17.83 L627.82,17.61 L628.38,17.40 L628.94,17.19 L629.50,16.98 L630.06,16.78 L630.62,16.58 L631.18,16.39 L631.74,16.20 L632.30,16.02 L632.86,15.84 L633.42,15.67 L633.98,15.51 L634.54,15.35 L635.10,15.20 L635.66,15.05 L636.22,14.91 L636.78,14.78 L637.35,14.66 L637.91,14.53 L638.47,14.42 L639.03,14.31 L639.59,14.20 L640.15,14.10 L640.71,14.01 L641.27,13.91 L641.83,13.82 L642.39,13.74 L642.95,13.66 L643.51,13.58 L644.07,13.51 L644.63,13.44 L645.19,13.37 L645.75,13.30 L646.31,13.24 L646.87,13.17 L647.43,13.11 L648.00,13.05 L648.56,12.99 L649.12,12.93 L649.68,12.88 L650.24,12.82 L650.80,12.76 L651.36,12.71 L651.92,12.65 L652.48,12.59 L653.04,12.54 L653.60,12.48 L654.16,12.42 L654.72,12.36 L655.28,12.31 L655.84,12.25 L656.40,12.19 L656.96,12.13 L657.52,12.07 L658.08,12.02 L658.65,11.96 L659.21,11.90 L659.77,11.84 L660.33,11.79 L660.89,11.73 L661.45,11.68 L662.01,11.62 L662.57,11.57 L663.13,11.51 L663.69,11.46 L664.25,11.41 L664.81,11.35 L665.37,11.30 L665.93,11.25 L666.49,11.20 L667.05,11.16 L667.61,11.11 L668.17,11.06 L668.73,11.02 L669.30,10.97 L669.86,10.93 L670.42,10.89 L670.98,10.85 L671.54,10.81 L672.10,10.77 L672.66,10.74 L673.22,10.70 L673.78,10.67 L674.34,10.64 L674.90,10.61 L675.46,10.58 L676.02,10.56 L676.58,10.53 L677.14,10.51 L677.70,10.49 L678.26,10.47 L678.82,10.45 L679.38,10.43 L679.95,10.42 L680.51,10.41 L681.07,10.39 L681.63,10.38 L682.19,10.37 L682.75,10.36 L683.31,10.35 L683.87,10.35 L684.43,10.34 L684.99,10.34 L685.55,10.33 L686.11,10.33 L686.67,10.33 L687.23,10.33 L687.79,10.32 L688.35,10.32 L688.91,10.32 L689.47,10.33 L690.03,10.33 L690.59,10.33 L691.16,10.33 L691.72,10.34 L692.28,10.34 L692.84,10.34 L693.40,10.35 L693.96,10.35 L694.52,10.35 L695.08,10.36 L695.64,10.36 L696.20,10.37 L696.76,10.37 L697.32,10.38 L697.88,10.38 L698.44,10.39 L699.00,10.39 L699.56,10.39 L700.12,10.40 L700.68,10.40 L701.24,10.40 L701.81,10.41 L702.37,10.41 L702.93,10.41 L703.49,10.41 L704.05,10.41 L704.61,10.42 L705.17,10.42 L705.73,10.42 L706.29,10.42" fill="none" stroke="#f2a0a0" stroke-width="1.3" clip-path="url(#cb)"/><path d="M437.80,274.46 L438.36,274.01 L438.92,273.57 L439.48,273.12 L440.04,272.68 L440.60,272.24 L441.16,271.80 L441.72,271.37 L442.28,270.94 L442.84,270.52 L443.41,270.09 L443.97,269.68 L444.53,269.27 L445.09,268.86 L445.65,268.46 L446.21,268.07 L446.77,267.68 L447.33,267.30 L447.89,266.93 L448.45,266.56 L449.01,266.19 L449.57,265.83 L450.13,265.47 L450.69,265.10 L451.25,264.73 L451.81,264.35 L452.37,263.96 L452.93,263.55 L453.49,263.14 L454.06,262.70 L454.62,262.25 L455.18,261.77 L455.74,261.27 L456.30,260.74 L456.86,260.20 L457.42,259.64 L457.98,259.08 L458.54,258.50 L459.10,257.92 L459.66,257.34 L460.22,256.76 L460.78,256.19 L461.34,255.63 L461.90,255.08 L462.46,254.54 L463.02,254.00 L463.58,253.46 L464.14,252.92 L464.71,252.38 L465.27,251.83 L465.83,251.27 L466.39,250.70 L466.95,250.10 L467.51,249.50 L468.07,248.86 L468.63,248.21 L469.19,247.52 L469.75,246.81 L470.31,246.06 L470.87,245.29 L471.43,244.48 L471.99,243.65 L472.55,242.79 L473.11,241.90 L473.67,240.98 L474.23,240.03 L474.79,239.06 L475.35,238.06 L475.92,237.04 L476.48,236.00 L477.04,234.94 L477.60,233.86 L478.16,232.76 L478.72,231.65 L479.28,230.53 L479.84,229.40 L480.40,228.26 L480.96,227.12 L481.52,225.97 L482.08,224.81 L482.64,223.66 L483.20,222.51 L483.76,221.36 L484.32,220.22 L484.88,219.08 L485.44,217.95 L486.00,216.83 L486.57,215.73 L487.13,214.64 L487.69,213.56 L488.25,212.51 L488.81,211.47 L489.37,210.46 L489.93,209.47 L490.49,208.50 L491.05,207.56 L491.61,206.63 L492.17,205.72 L492.73,204.82 L493.29,203.93 L493.85,203.04 L494.41,202.14 L494.97,201.25 L495.53,200.35 L496.09,199.43 L496.65,198.51 L497.22,197.56 L497.78,196.59 L498.34,195.59 L498.90,194.58 L499.46,193.54 L500.02,192.49 L500.58,191.43 L501.14,190.35 L501.70,189.27 L502.26,188.18 L502.82,187.10 L503.38,186.01 L503.94,184.93 L504.50,183.86 L505.06,182.79 L505.62,181.74 L506.18,180.71 L506.74,179.69 L507.30,178.69 L507.87,177.69 L508.43,176.71 L508.99,175.73 L509.55,174.75 L510.11,173.77 L510.67,172.80 L511.23,171.82 L511.79,170.83 L512.35,169.84 L512.91,168.83 L513.47,167.82 L514.03,166.79 L514.59,165.74 L515.15,164.67 L515.71,163.58 L516.27,162.47 L516.83,161.33 L517.39,160.16 L517.95,158.97 L518.52,157.75 L519.08,156.51 L519.64,155.25 L520.20,153.98 L520.76,152.70 L521.32,151.41 L521.88,150.12 L522.44,148.82 L523.00,147.53 L523.56,146.24 L524.12,144.96 L524.68,143.69 L525.24,142.44 L525.80,141.20 L526.36,139.99 L526.92,138.79 L527.48,137.61 L528.04,136.45 L528.60,135.30 L529.16,134.16 L529.73,133.04 L530.29,131.94 L530.85,130.84 L531.41,129.75 L531.97,128.67 L532.53,127.60 L533.09,126.54 L533.65,125.48 L534.21,124.43 L534.77,123.38 L535.33,122.33 L535.89,121.29 L536.45,120.24 L537.01,119.19 L537.57,118.14 L538.13,117.08 L538.69,115.99 L539.25,114.89 L539.81,113.76 L540.38,112.59 L540.94,111.39 L541.50,110.14 L542.06,108.84 L542.62,107.49 L543.18,106.10 L543.74,104.67 L544.30,103.22 L544.86,101.75 L545.42,100.27 L545.98,98.79 L546.54,97.32 L547.10,95.86 L547.66,94.42 L548.22,93.01 L548.78,91.63 L549.34,90.30 L549.90,89.02 L550.46,87.80 L551.03,86.64 L551.59,85.55 L552.15,84.52 L552.71,83.54 L553.27,82.62 L553.83,81.75 L554.39,80.93 L554.95,80.14 L555.51,79.40 L556.07,78.70 L556.63,78.03 L557.19,77.39 L557.75,76.77 L558.31,76.17 L558.87,75.60 L559.43,75.04 L559.99,74.49 L560.55,73.95 L561.11,73.42 L561.68,72.88 L562.24,72.35 L562.80,71.81 L563.36,71.26 L563.92,70.69 L564.48,70.11 L565.04,69.51 L565.60,68.89 L566.16,68.25 L566.72,67.60 L567.28,66.93 L567.84,66.24 L568.40,65.55 L568.96,64.85 L569.52,64.14 L570.08,63.44 L570.64,62.73 L571.20,62.02 L571.76,61.32 L572.33,60.63 L572.89,59.95 L573.45,59.28 L574.01,58.61 L574.57,57.96 L575.13,57.32 L575.69,56.69 L576.25,56.06 L576.81,55.44 L577.37,54.83 L577.93,54.22 L578.49,53.62 L579.05,53.02 L579.61,52.43 L580.17,51.84 L580.73,51.26 L581.29,50.67 L581.85,50.09 L582.41,49.51 L582.97,48.93 L583.54,48.35 L584.10,47.76 L584.66,47.18 L585.22,46.59 L585.78,46.00 L586.34,45.41 L586.90,44.81 L587.46,44.22 L588.02,43.63 L588.58,43.04 L589.14,42.45 L589.70,41.87 L590.26,41.29 L590.82,40.72 L591.38,40.16 L591.94,39.60 L592.50,39.06 L593.06,38.52 L593.62,38.00 L594.19,37.49 L594.75,36.99 L595.31,36.51 L595.87,36.04 L596.43,35.58 L596.99,35.14 L597.55,34.70 L598.11,34.27 L598.67,33.85 L599.23,33.42 L599.79,33.00 L600.35,32.58 L600.91,32.16 L601.47,31.74 L602.03,31.32 L602.59,30.89 L603.15,30.48 L603.71,30.06 L604.27,29.65 L604.84,29.24 L605.40,28.84 L605.96,28.45 L606.52,28.06 L607.08,27.68 L607.64,27.31 L608.20,26.95 L608.76,26.60 L609.32,26.25 L609.88,25.92 L610.44,25.59 L611.00,25.27 L611.56,24.96 L612.12,24.66 L612.68,24.36 L613.24,24.07 L613.80,23.78 L614.36,23.50 L614.92,23.23 L615.49,22.96 L616.05,22.69 L616.61,22.43 L617.17,22.17 L617.73,21.91 L618.29,21.66 L618.85,21.41 L619.41,21.16 L619.97,20.91 L620.53,20.66 L621.09,20.42 L621.65,20.17 L622.21,19.93 L622.77,19.69 L623.33,19.45 L623.89,19.21 L624.45,18.97 L625.01,18.74 L625.57,18.51 L626.14,18.28 L626.70,18.05 L627.26,17.83 L627.82,17.61 L628.38,17.40 L628.94,17.19 L629.50,16.98 L630.06,16.78 L630.62,16.58 L631.18,16.39 L631.74,16.20 L632.30,16.02 L632.86,15.84 L633.42,15.67 L633.98,15.51 L634.54,15.35 L635.10,15.20 L635.66,15.05 L636.22,14.91 L636.78,14.78 L637.35,14.66 L637.91,14.53 L638.47,14.42 L639.03,14.31 L639.59,14.20 L640.15,14.10 L640.71,14.01 L641.27,13.91 L641.83,13.82 L642.39,13.74 L642.95,13.66 L643.51,13.58 L644.07,13.51 L644.63,13.44 L645.19,13.37 L645.75,13.30 L646.31,13.24 L646.87,13.17 L647.43,13.11 L648.00,13.05 L648.56,12.99 L649.12,12.93 L649.68,12.88 L650.24,12.82 L650.80,12.76 L651.36,12.71 L651.92,12.65 L652.48,12.59 L653.04,12.54 L653.60,12.48 L654.16,12.42 L654.72,12.36 L655.28,12.31 L655.84,12.25 L656.40,12.19 L656.96,12.13 L657.52,12.07 L658.08,12.02 L658.65,11.96 L659.21,11.90 L659.77,11.84 L660.33,11.79 L660.89,11.73 L661.45,11.68 L662.01,11.62 L662.57,11.57 L663.13,11.51 L663.69,11.46 L664.25,11.41 L664.81,11.35 L665.37,11.30 L665.93,11.25 L666.49,11.20 L667.05,11.16 L667.61,11.11 L668.17,11.06 L668.73,11.02 L669.30,10.97 L669.86,10.93 L670.42,10.89 L670.98,10.85 L671.54,10.81 L672.10,10.77 L672.66,10.74 L673.22,10.70 L673.78,10.67 L674.34,10.64 L674.90,10.61 L675.46,10.58 L676.02,10.56 L676.58,10.53 L677.14,10.51 L677.70,10.49 L678.26,10.47 L678.82,10.45 L679.38,10.43 L679.95,10.42 L680.51,10.41 L681.07,10.39 L681.63,10.38 L682.19,10.37 L682.75,10.36 L683.31,10.35 L683.87,10.35 L684.43,10.34 L684.99,10.34 L685.55,10.33 L686.11,10.33 L686.67,10.33 L687.23,10.33 L687.79,10.32 L688.35,10.32 L688.91,10.32 L689.47,10.33 L690.03,10.33 L690.59,10.33 L691.16,10.33 L691.72,10.34 L692.28,10.34 L692.84,10.34 L693.40,10.35 L693.96,10.35 L694.52,10.35 L695.08,10.36 L695.64,10.36 L696.20,10.37 L696.76,10.37 L697.32,10.38 L697.88,10.38 L698.44,10.39 L699.00,10.39 L699.56,10.39 L700.12,10.40 L700.68,10.40 L701.24,10.40 L701.81,10.41 L702.37,10.41 L702.93,10.41 L703.49,10.41 L704.05,10.41 L704.61,10.42 L705.17,10.42 L705.73,10.42 L706.29,10.42" fill="none" stroke="#d9534f" stroke-width="3.0" stroke-dasharray="12 9" stroke-dashoffset="6.3600451017208" clip-path="url(#cb)"/>
<path d="M436.00,274.15 L436.56,273.55 L437.13,272.95 L437.69,272.37 L438.26,271.81 L438.82,271.27 L439.38,270.76 L439.95,270.28 L440.51,269.83 L441.08,269.40 L441.64,269.00 L442.21,268.61 L442.77,268.24 L443.33,267.88 L443.90,267.54 L444.46,267.21 L445.03,266.88 L445.59,266.56 L446.15,266.23 L446.72,265.91 L447.28,265.59 L447.85,265.26 L448.41,264.93 L448.97,264.58 L449.54,264.22 L450.10,263.86 L450.67,263.48 L451.23,263.08 L451.80,262.67 L452.36,262.24 L452.92,261.79 L453.49,261.32 L454.05,260.83 L454.62,260.32 L455.18,259.78 L455.74,259.22 L456.31,258.64 L456.87,258.04 L457.44,257.42 L458.00,256.78 L458.57,256.12 L459.13,255.44 L459.69,254.74 L460.26,254.03 L460.82,253.30 L461.39,252.56 L461.95,251.80 L462.51,251.03 L463.08,250.25 L463.64,249.46 L464.21,248.66 L464.77,247.85 L465.33,247.03 L465.90,246.21 L466.46,245.38 L467.03,244.55 L467.59,243.71 L468.16,242.88 L468.72,242.03 L469.28,241.18 L469.85,240.33 L470.41,239.47 L470.98,238.61 L471.54,237.74 L472.10,236.87 L472.67,235.98 L473.23,235.09 L473.80,234.20 L474.36,233.30 L474.92,232.39 L475.49,231.47 L476.05,230.55 L476.62,229.62 L477.18,228.68 L477.75,227.73 L478.31,226.78 L478.87,225.81 L479.44,224.84 L480.00,223.86 L480.57,222.87 L481.13,221.87 L481.69,220.86 L482.26,219.85 L482.82,218.82 L483.39,217.78 L483.95,216.74 L484.52,215.68 L485.08,214.61 L485.64,213.54 L486.21,212.45 L486.77,211.36 L487.34,210.25 L487.90,209.14 L488.46,208.02 L489.03,206.90 L489.59,205.76 L490.16,204.62 L490.72,203.47 L491.28,202.32 L491.85,201.16 L492.41,200.00 L492.98,198.83 L493.54,197.65 L494.11,196.47 L494.67,195.29 L495.23,194.11 L495.80,192.93 L496.36,191.75 L496.93,190.57 L497.49,189.39 L498.05,188.22 L498.62,187.06 L499.18,185.91 L499.75,184.77 L500.31,183.64 L500.87,182.52 L501.44,181.41 L502.00,180.32 L502.57,179.24 L503.13,178.16 L503.70,177.10 L504.26,176.04 L504.82,174.98 L505.39,173.93 L505.95,172.88 L506.52,171.83 L507.08,170.78 L507.64,169.73 L508.21,168.67 L508.77,167.61 L509.34,166.54 L509.90,165.46 L510.46,164.38 L511.03,163.28 L511.59,162.16 L512.16,161.04 L512.72,159.90 L513.29,158.74 L513.85,157.57 L514.41,156.39 L514.98,155.20 L515.54,154.00 L516.11,152.79 L516.67,151.57 L517.23,150.35 L517.80,149.12 L518.36,147.89 L518.93,146.65 L519.49,145.42 L520.06,144.18 L520.62,142.95 L521.18,141.72 L521.75,140.49 L522.31,139.26 L522.88,138.04 L523.44,136.83 L524.00,135.61 L524.57,134.40 L525.13,133.20 L525.70,132.00 L526.26,130.80 L526.82,129.61 L527.39,128.42 L527.95,127.24 L528.52,126.06 L529.08,124.88 L529.65,123.71 L530.21,122.55 L530.77,121.39 L531.34,120.23 L531.90,119.08 L532.47,117.94 L533.03,116.80 L533.59,115.66 L534.16,114.53 L534.72,113.40 L535.29,112.28 L535.85,111.17 L536.41,110.06 L536.98,108.95 L537.54,107.85 L538.11,106.76 L538.67,105.67 L539.24,104.58 L539.80,103.51 L540.36,102.43 L540.93,101.37 L541.49,100.30 L542.06,99.25 L542.62,98.19 L543.18,97.14 L543.75,96.09 L544.31,95.04 L544.88,93.99 L545.44,92.93 L546.01,91.87 L546.57,90.81 L547.13,89.75 L547.70,88.69 L548.26,87.64 L548.83,86.61 L549.39,85.58 L549.95,84.57 L550.52,83.58 L551.08,82.60 L551.65,81.65 L552.21,80.73 L552.77,79.83 L553.34,78.96 L553.90,78.10 L554.47,77.27 L555.03,76.45 L555.60,75.64 L556.16,74.84 L556.72,74.05 L557.29,73.26 L557.85,72.47 L558.42,71.68 L558.98,70.88 L559.54,70.07 L560.11,69.25 L560.67,68.42 L561.24,67.57 L561.80,66.70 L562.36,65.81 L562.93,64.89 L563.49,63.94 L564.06,62.97 L564.62,61.99 L565.19,60.99 L565.75,60.00 L566.31,59.00 L566.88,58.01 L567.44,57.03 L568.01,56.05 L568.57,55.07 L569.13,54.11 L569.70,53.15 L570.26,52.21 L570.83,51.28 L571.39,50.36 L571.95,49.46 L572.52,48.57 L573.08,47.70 L573.65,46.86 L574.21,46.03 L574.78,45.22 L575.34,44.44 L575.90,43.68 L576.47,42.95 L577.03,42.24 L577.60,41.55 L578.16,40.88 L578.72,40.22 L579.29,39.59 L579.85,38.97 L580.42,38.37 L580.98,37.79 L581.55,37.21 L582.11,36.65 L582.67,36.10 L583.24,35.57 L583.80,35.04 L584.37,34.52 L584.93,34.01 L585.49,33.50 L586.06,33.00 L586.62,32.51 L587.19,32.02 L587.75,31.54 L588.31,31.07 L588.88,30.60 L589.44,30.14 L590.01,29.68 L590.57,29.23 L591.14,28.79 L591.70,28.35 L592.26,27.92 L592.83,27.49 L593.39,27.07 L593.96,26.65 L594.52,26.24 L595.08,25.83 L595.65,25.43 L596.21,25.04 L596.78,24.65 L597.34,24.26 L597.90,23.89 L598.47,23.51 L599.03,23.15 L599.60,22.79 L600.16,22.43 L600.73,22.08 L601.29,21.74 L601.85,21.41 L602.42,21.08 L602.98,20.75 L603.55,20.44 L604.11,20.13 L604.67,19.82 L605.24,19.53 L605.80,19.24 L606.37,18.96 L606.93,18.68 L607.49,18.41 L608.06,18.15 L608.62,17.90 L609.19,17.65 L609.75,17.41 L610.32,17.18 L610.88,16.95 L611.44,16.73 L612.01,16.51 L612.57,16.30 L613.14,16.10 L613.70,15.90 L614.26,15.70 L614.83,15.51 L615.39,15.33 L615.96,15.15 L616.52,14.97 L617.09,14.80 L617.65,14.63 L618.21,14.47 L618.78,14.31 L619.34,14.15 L619.91,13.99 L620.47,13.84 L621.03,13.69 L621.60,13.54 L622.16,13.40 L622.73,13.25 L623.29,13.11 L623.85,12.98 L624.42,12.85 L624.98,12.72 L625.55,12.59 L626.11,12.47 L626.68,12.35 L627.24,12.23 L627.80,12.12 L628.37,12.01 L628.93,11.90 L629.50,11.80 L630.06,11.70 L630.62,11.61 L631.19,11.52 L631.75,11.43 L632.32,11.35 L632.88,11.27 L633.44,11.19 L634.01,11.13 L634.57,11.06 L635.14,11.00 L635.70,10.94 L636.27,10.89 L636.83,10.85 L637.39,10.80 L637.96,10.76 L638.52,10.73 L639.09,10.69 L639.65,10.66 L640.21,10.64 L640.78,10.61 L641.34,10.59 L641.91,10.58 L642.47,10.56 L643.04,10.55 L643.60,10.54 L644.16,10.53 L644.73,10.52 L645.29,10.51 L645.86,10.51 L646.42,10.50 L646.98,10.50 L647.55,10.50 L648.11,10.50 L648.68,10.49 L649.24,10.49 L649.80,10.49 L650.37,10.49 L650.93,10.49 L651.50,10.49 L652.06,10.49 L652.63,10.48 L653.19,10.48 L653.75,10.47 L654.32,10.47 L654.88,10.46 L655.45,10.46 L656.01,10.45 L656.57,10.44 L657.14,10.44 L657.70,10.43 L658.27,10.42 L658.83,10.41 L659.39,10.40 L659.96,10.40 L660.52,10.39 L661.09,10.38 L661.65,10.37 L662.22,10.36 L662.78,10.35 L663.34,10.34 L663.91,10.33 L664.47,10.32 L665.04,10.32 L665.60,10.31 L666.16,10.30" fill="none" stroke="#5b8fc6" stroke-width="1.3" clip-path="url(#cb)"/><path d="M436.00,274.15 L436.56,273.55 L437.13,272.95 L437.69,272.37 L438.26,271.81 L438.82,271.27 L439.38,270.76 L439.95,270.28 L440.51,269.83 L441.08,269.40 L441.64,269.00 L442.21,268.61 L442.77,268.24 L443.33,267.88 L443.90,267.54 L444.46,267.21 L445.03,266.88 L445.59,266.56 L446.15,266.23 L446.72,265.91 L447.28,265.59 L447.85,265.26 L448.41,264.93 L448.97,264.58 L449.54,264.22 L450.10,263.86 L450.67,263.48 L451.23,263.08 L451.80,262.67 L452.36,262.24 L452.92,261.79 L453.49,261.32 L454.05,260.83 L454.62,260.32 L455.18,259.78 L455.74,259.22 L456.31,258.64 L456.87,258.04 L457.44,257.42 L458.00,256.78 L458.57,256.12 L459.13,255.44 L459.69,254.74 L460.26,254.03 L460.82,253.30 L461.39,252.56 L461.95,251.80 L462.51,251.03 L463.08,250.25 L463.64,249.46 L464.21,248.66 L464.77,247.85 L465.33,247.03 L465.90,246.21 L466.46,245.38 L467.03,244.55 L467.59,243.71 L468.16,242.88 L468.72,242.03 L469.28,241.18 L469.85,240.33 L470.41,239.47 L470.98,238.61 L471.54,237.74 L472.10,236.87 L472.67,235.98 L473.23,235.09 L473.80,234.20 L474.36,233.30 L474.92,232.39 L475.49,231.47 L476.05,230.55 L476.62,229.62 L477.18,228.68 L477.75,227.73 L478.31,226.78 L478.87,225.81 L479.44,224.84 L480.00,223.86 L480.57,222.87 L481.13,221.87 L481.69,220.86 L482.26,219.85 L482.82,218.82 L483.39,217.78 L483.95,216.74 L484.52,215.68 L485.08,214.61 L485.64,213.54 L486.21,212.45 L486.77,211.36 L487.34,210.25 L487.90,209.14 L488.46,208.02 L489.03,206.90 L489.59,205.76 L490.16,204.62 L490.72,203.47 L491.28,202.32 L491.85,201.16 L492.41,200.00 L492.98,198.83 L493.54,197.65 L494.11,196.47 L494.67,195.29 L495.23,194.11 L495.80,192.93 L496.36,191.75 L496.93,190.57 L497.49,189.39 L498.05,188.22 L498.62,187.06 L499.18,185.91 L499.75,184.77 L500.31,183.64 L500.87,182.52 L501.44,181.41 L502.00,180.32 L502.57,179.24 L503.13,178.16 L503.70,177.10 L504.26,176.04 L504.82,174.98 L505.39,173.93 L505.95,172.88 L506.52,171.83 L507.08,170.78 L507.64,169.73 L508.21,168.67 L508.77,167.61 L509.34,166.54 L509.90,165.46 L510.46,164.38 L511.03,163.28 L511.59,162.16 L512.16,161.04 L512.72,159.90 L513.29,158.74 L513.85,157.57 L514.41,156.39 L514.98,155.20 L515.54,154.00 L516.11,152.79 L516.67,151.57 L517.23,150.35 L517.80,149.12 L518.36,147.89 L518.93,146.65 L519.49,145.42 L520.06,144.18 L520.62,142.95 L521.18,141.72 L521.75,140.49 L522.31,139.26 L522.88,138.04 L523.44,136.83 L524.00,135.61 L524.57,134.40 L525.13,133.20 L525.70,132.00 L526.26,130.80 L526.82,129.61 L527.39,128.42 L527.95,127.24 L528.52,126.06 L529.08,124.88 L529.65,123.71 L530.21,122.55 L530.77,121.39 L531.34,120.23 L531.90,119.08 L532.47,117.94 L533.03,116.80 L533.59,115.66 L534.16,114.53 L534.72,113.40 L535.29,112.28 L535.85,111.17 L536.41,110.06 L536.98,108.95 L537.54,107.85 L538.11,106.76 L538.67,105.67 L539.24,104.58 L539.80,103.51 L540.36,102.43 L540.93,101.37 L541.49,100.30 L542.06,99.25 L542.62,98.19 L543.18,97.14 L543.75,96.09 L544.31,95.04 L544.88,93.99 L545.44,92.93 L546.01,91.87 L546.57,90.81 L547.13,89.75 L547.70,88.69 L548.26,87.64 L548.83,86.61 L549.39,85.58 L549.95,84.57 L550.52,83.58 L551.08,82.60 L551.65,81.65 L552.21,80.73 L552.77,79.83 L553.34,78.96 L553.90,78.10 L554.47,77.27 L555.03,76.45 L555.60,75.64 L556.16,74.84 L556.72,74.05 L557.29,73.26 L557.85,72.47 L558.42,71.68 L558.98,70.88 L559.54,70.07 L560.11,69.25 L560.67,68.42 L561.24,67.57 L561.80,66.70 L562.36,65.81 L562.93,64.89 L563.49,63.94 L564.06,62.97 L564.62,61.99 L565.19,60.99 L565.75,60.00 L566.31,59.00 L566.88,58.01 L567.44,57.03 L568.01,56.05 L568.57,55.07 L569.13,54.11 L569.70,53.15 L570.26,52.21 L570.83,51.28 L571.39,50.36 L571.95,49.46 L572.52,48.57 L573.08,47.70 L573.65,46.86 L574.21,46.03 L574.78,45.22 L575.34,44.44 L575.90,43.68 L576.47,42.95 L577.03,42.24 L577.60,41.55 L578.16,40.88 L578.72,40.22 L579.29,39.59 L579.85,38.97 L580.42,38.37 L580.98,37.79 L581.55,37.21 L582.11,36.65 L582.67,36.10 L583.24,35.57 L583.80,35.04 L584.37,34.52 L584.93,34.01 L585.49,33.50 L586.06,33.00 L586.62,32.51 L587.19,32.02 L587.75,31.54 L588.31,31.07 L588.88,30.60 L589.44,30.14 L590.01,29.68 L590.57,29.23 L591.14,28.79 L591.70,28.35 L592.26,27.92 L592.83,27.49 L593.39,27.07 L593.96,26.65 L594.52,26.24 L595.08,25.83 L595.65,25.43 L596.21,25.04 L596.78,24.65 L597.34,24.26 L597.90,23.89 L598.47,23.51 L599.03,23.15 L599.60,22.79 L600.16,22.43 L600.73,22.08 L601.29,21.74 L601.85,21.41 L602.42,21.08 L602.98,20.75 L603.55,20.44 L604.11,20.13 L604.67,19.82 L605.24,19.53 L605.80,19.24 L606.37,18.96 L606.93,18.68 L607.49,18.41 L608.06,18.15 L608.62,17.90 L609.19,17.65 L609.75,17.41 L610.32,17.18 L610.88,16.95 L611.44,16.73 L612.01,16.51 L612.57,16.30 L613.14,16.10 L613.70,15.90 L614.26,15.70 L614.83,15.51 L615.39,15.33 L615.96,15.15 L616.52,14.97 L617.09,14.80 L617.65,14.63 L618.21,14.47 L618.78,14.31 L619.34,14.15 L619.91,13.99 L620.47,13.84 L621.03,13.69 L621.60,13.54 L622.16,13.40 L622.73,13.25 L623.29,13.11 L623.85,12.98 L624.42,12.85 L624.98,12.72 L625.55,12.59 L626.11,12.47 L626.68,12.35 L627.24,12.23 L627.80,12.12 L628.37,12.01 L628.93,11.90 L629.50,11.80 L630.06,11.70 L630.62,11.61 L631.19,11.52 L631.75,11.43 L632.32,11.35 L632.88,11.27 L633.44,11.19 L634.01,11.13 L634.57,11.06 L635.14,11.00 L635.70,10.94 L636.27,10.89 L636.83,10.85 L637.39,10.80 L637.96,10.76 L638.52,10.73 L639.09,10.69 L639.65,10.66 L640.21,10.64 L640.78,10.61 L641.34,10.59 L641.91,10.58 L642.47,10.56 L643.04,10.55 L643.60,10.54 L644.16,10.53 L644.73,10.52 L645.29,10.51 L645.86,10.51 L646.42,10.50 L646.98,10.50 L647.55,10.50 L648.11,10.50 L648.68,10.49 L649.24,10.49 L649.80,10.49 L650.37,10.49 L650.93,10.49 L651.50,10.49 L652.06,10.49 L652.63,10.48 L653.19,10.48 L653.75,10.47 L654.32,10.47 L654.88,10.46 L655.45,10.46 L656.01,10.45 L656.57,10.44 L657.14,10.44 L657.70,10.43 L658.27,10.42 L658.83,10.41 L659.39,10.40 L659.96,10.40 L660.52,10.39 L661.09,10.38 L661.65,10.37 L662.22,10.36 L662.78,10.35 L663.34,10.34 L663.91,10.33 L664.47,10.32 L665.04,10.32 L665.60,10.31 L666.16,10.30" fill="none" stroke="#3a76b4" stroke-width="3.0" stroke-dasharray="12 9" stroke-dashoffset="10.24294335949391" clip-path="url(#cb)"/>
<path d="M429.50,274.99 L430.08,274.28 L430.65,273.57 L431.23,272.86 L431.81,272.15 L432.39,271.44 L432.96,270.73 L433.54,270.00 L434.12,269.27 L434.69,268.51 L435.27,267.73 L435.85,266.92 L436.43,266.08 L437.00,265.19 L437.58,264.24 L438.16,263.24 L438.73,262.17 L439.31,261.04 L439.89,259.85 L440.47,258.58 L441.04,257.25 L441.62,255.85 L442.20,254.39 L442.77,252.88 L443.35,251.33 L443.93,249.76 L444.51,248.19 L445.08,246.62 L445.66,245.04 L446.24,243.45 L446.81,241.85 L447.39,240.24 L447.97,238.62 L448.55,236.99 L449.12,235.36 L449.70,233.72 L450.28,232.09 L450.85,230.47 L451.43,228.87 L452.01,227.28 L452.59,225.73 L453.16,224.20 L453.74,222.69 L454.32,221.19 L454.89,219.67 L455.47,218.13 L456.05,216.56 L456.63,214.96 L457.20,213.34 L457.78,211.69 L458.36,210.03 L458.93,208.36 L459.51,206.68 L460.09,205.01 L460.67,203.34 L461.24,201.67 L461.82,200.01 L462.40,198.35 L462.97,196.69 L463.55,195.03 L464.13,193.35 L464.71,191.67 L465.28,189.98 L465.86,188.27 L466.44,186.56 L467.02,184.83 L467.59,183.10 L468.17,181.36 L468.75,179.61 L469.32,177.85 L469.90,176.10 L470.48,174.34 L471.06,172.58 L471.63,170.83 L472.21,169.07 L472.79,167.33 L473.36,165.60 L473.94,163.87 L474.52,162.16 L475.10,160.46 L475.67,158.78 L476.25,157.11 L476.83,155.46 L477.40,153.84 L477.98,152.24 L478.56,150.66 L479.14,149.10 L479.71,147.57 L480.29,146.05 L480.87,144.56 L481.44,143.09 L482.02,141.64 L482.60,140.21 L483.18,138.81 L483.75,137.42 L484.33,136.05 L484.91,134.70 L485.48,133.37 L486.06,132.06 L486.64,130.77 L487.22,129.50 L487.79,128.24 L488.37,127.01 L488.95,125.79 L489.52,124.59 L490.10,123.41 L490.68,122.24 L491.26,121.10 L491.83,119.97 L492.41,118.85 L492.99,117.75 L493.56,116.67 L494.14,115.60 L494.72,114.55 L495.30,113.52 L495.87,112.50 L496.45,111.49 L497.03,110.50 L497.60,109.52 L498.18,108.55 L498.76,107.59 L499.34,106.64 L499.91,105.69 L500.49,104.74 L501.07,103.80 L501.64,102.85 L502.22,101.90 L502.80,100.95 L503.38,100.00 L503.95,99.04 L504.53,98.07 L505.11,97.10 L505.68,96.13 L506.26,95.16 L506.84,94.19 L507.42,93.23 L507.99,92.28 L508.57,91.34 L509.15,90.41 L509.72,89.49 L510.30,88.60 L510.88,87.72 L511.46,86.87 L512.03,86.03 L512.61,85.23 L513.19,84.46 L513.76,83.71 L514.34,82.98 L514.92,82.28 L515.50,81.59 L516.07,80.93 L516.65,80.27 L517.23,79.63 L517.80,79.00 L518.38,78.37 L518.96,77.75 L519.54,77.13 L520.11,76.51 L520.69,75.89 L521.27,75.27 L521.84,74.64 L522.42,74.02 L523.00,73.40 L523.58,72.77 L524.15,72.16 L524.73,71.54 L525.31,70.93 L525.88,70.33 L526.46,69.73 L527.04,69.14 L527.62,68.56 L528.19,67.99 L528.77,67.43 L529.35,66.89 L529.92,66.36 L530.50,65.84 L531.08,65.33 L531.66,64.84 L532.23,64.36 L532.81,63.89 L533.39,63.44 L533.96,62.99 L534.54,62.54 L535.12,62.11 L535.70,61.68 L536.27,61.25 L536.85,60.82 L537.43,60.40 L538.01,59.97 L538.58,59.55 L539.16,59.12 L539.74,58.69 L540.31,58.25 L540.89,57.81 L541.47,57.36 L542.05,56.91 L542.62,56.45 L543.20,55.99 L543.78,55.53 L544.35,55.07 L544.93,54.61 L545.51,54.16 L546.09,53.70 L546.66,53.25 L547.24,52.81 L547.82,52.36 L548.39,51.93 L548.97,51.51 L549.55,51.09 L550.13,50.68 L550.70,50.29 L551.28,49.90 L551.86,49.53 L552.43,49.17 L553.01,48.82 L553.59,48.48 L554.17,48.15 L554.74,47.83 L555.32,47.51 L555.90,47.21 L556.47,46.91 L557.05,46.62 L557.63,46.33 L558.21,46.05 L558.78,45.78 L559.36,45.51 L559.94,45.24 L560.51,44.97 L561.09,44.71 L561.67,44.44 L562.25,44.18 L562.82,43.92 L563.40,43.66 L563.98,43.40 L564.55,43.13 L565.13,42.87 L565.71,42.60 L566.29,42.33 L566.86,42.05 L567.44,41.78 L568.02,41.51 L568.59,41.24 L569.17,40.97 L569.75,40.70 L570.33,40.44 L570.90,40.18 L571.48,39.93 L572.06,39.68 L572.63,39.44 L573.21,39.19 L573.79,38.96 L574.37,38.72 L574.94,38.49 L575.52,38.26 L576.10,38.04 L576.67,37.82 L577.25,37.60 L577.83,37.39 L578.41,37.18 L578.98,36.97 L579.56,36.77 L580.14,36.57 L580.71,36.37 L581.29,36.18 L581.87,35.99 L582.45,35.80 L583.02,35.61 L583.60,35.43 L584.18,35.25 L584.75,35.07 L585.33,34.90 L585.91,34.73 L586.49,34.56 L587.06,34.39 L587.64,34.22 L588.22,34.06 L588.79,33.90 L589.37,33.74 L589.95,33.59 L590.53,33.43 L591.10,33.28 L591.68,33.13 L592.26,32.98 L592.83,32.84 L593.41,32.70 L593.99,32.56 L594.57,32.42 L595.14,32.28 L595.72,32.15 L596.30,32.01 L596.87,31.88 L597.45,31.75 L598.03,31.63 L598.61,31.50 L599.18,31.38 L599.76,31.26 L600.34,31.14 L600.91,31.02 L601.49,30.90 L602.07,30.79 L602.65,30.67 L603.22,30.56 L603.80,30.45 L604.38,30.33 L604.95,30.22 L605.53,30.11 L606.11,30.00 L606.69,29.89 L607.26,29.77 L607.84,29.66 L608.42,29.55 L608.99,29.43 L609.57,29.32 L610.15,29.20 L610.73,29.09 L611.30,28.97 L611.88,28.85 L612.46,28.74 L613.04,28.62 L613.61,28.50 L614.19,28.38 L614.77,28.27 L615.34,28.15 L615.92,28.03 L616.50,27.91 L617.08,27.79 L617.65,27.68 L618.23,27.56 L618.81,27.44 L619.38,27.33 L619.96,27.21 L620.54,27.09 L621.12,26.98 L621.69,26.86 L622.27,26.75 L622.85,26.63 L623.42,26.52 L624.00,26.40 L624.58,26.29 L625.16,26.18 L625.73,26.07 L626.31,25.96 L626.89,25.85 L627.46,25.74 L628.04,25.63 L628.62,25.52 L629.20,25.42 L629.77,25.31 L630.35,25.20 L630.93,25.10 L631.50,25.00 L632.08,24.90 L632.66,24.80 L633.24,24.70 L633.81,24.60 L634.39,24.50 L634.97,24.41 L635.54,24.31 L636.12,24.22 L636.70,24.13 L637.28,24.04 L637.85,23.95 L638.43,23.86 L639.01,23.78 L639.58,23.69 L640.16,23.61 L640.74,23.52 L641.32,23.44 L641.89,23.36 L642.47,23.28 L643.05,23.21 L643.62,23.13 L644.20,23.06 L644.78,22.98 L645.36,22.91 L645.93,22.84 L646.51,22.77 L647.09,22.70 L647.66,22.63 L648.24,22.57 L648.82,22.50 L649.40,22.44 L649.97,22.37 L650.55,22.31 L651.13,22.25 L651.70,22.19 L652.28,22.14 L652.86,22.08 L653.44,22.02 L654.01,21.97 L654.59,21.92 L655.17,21.86 L655.74,21.81 L656.32,21.76 L656.90,21.71 L657.48,21.66 L658.05,21.60 L658.63,21.55 L659.21,21.50 L659.78,21.45 L660.36,21.40 L660.94,21.35 L661.52,21.30 L662.09,21.25 L662.67,21.20 L663.25,21.15 L663.82,21.09 L664.40,21.04 L664.98,20.99 L665.56,20.93 L666.13,20.87 L666.71,20.82 L667.29,20.76 L667.86,20.70 L668.44,20.64 L669.02,20.58 L669.60,20.51 L670.17,20.45 L670.75,20.39 L671.33,20.32 L671.90,20.26 L672.48,20.19 L673.06,20.13 L673.64,20.06 L674.21,20.00 L674.79,19.93 L675.37,19.87 L675.94,19.81 L676.52,19.75 L677.10,19.69 L677.68,19.63 L678.25,19.57 L678.83,19.51 L679.41,19.46 L679.98,19.40 L680.56,19.35 L681.14,19.29 L681.72,19.24 L682.29,19.19 L682.87,19.14 L683.45,19.08 L684.03,19.03 L684.60,18.98 L685.18,18.94 L685.76,18.89 L686.33,18.84 L686.91,18.79 L687.49,18.75 L688.07,18.70 L688.64,18.66 L689.22,18.62 L689.80,18.57 L690.37,18.53 L690.95,18.49 L691.53,18.45 L692.11,18.41 L692.68,18.37 L693.26,18.33 L693.84,18.29 L694.41,18.25 L694.99,18.21 L695.57,18.17 L696.15,18.14 L696.72,18.10 L697.30,18.06 L697.88,18.03 L698.45,17.99 L699.03,17.96 L699.61,17.92 L700.19,17.89 L700.76,17.86 L701.34,17.82 L701.92,17.79 L702.49,17.76 L703.07,17.73 L703.65,17.69 L704.23,17.66 L704.80,17.63 L705.38,17.60 L705.96,17.57" fill="none" stroke="#5b8fc6" stroke-width="1.3" clip-path="url(#cb)"/><path d="M429.50,274.99 L430.08,274.28 L430.65,273.57 L431.23,272.86 L431.81,272.15 L432.39,271.44 L432.96,270.73 L433.54,270.00 L434.12,269.27 L434.69,268.51 L435.27,267.73 L435.85,266.92 L436.43,266.08 L437.00,265.19 L437.58,264.24 L438.16,263.24 L438.73,262.17 L439.31,261.04 L439.89,259.85 L440.47,258.58 L441.04,257.25 L441.62,255.85 L442.20,254.39 L442.77,252.88 L443.35,251.33 L443.93,249.76 L444.51,248.19 L445.08,246.62 L445.66,245.04 L446.24,243.45 L446.81,241.85 L447.39,240.24 L447.97,238.62 L448.55,236.99 L449.12,235.36 L449.70,233.72 L450.28,232.09 L450.85,230.47 L451.43,228.87 L452.01,227.28 L452.59,225.73 L453.16,224.20 L453.74,222.69 L454.32,221.19 L454.89,219.67 L455.47,218.13 L456.05,216.56 L456.63,214.96 L457.20,213.34 L457.78,211.69 L458.36,210.03 L458.93,208.36 L459.51,206.68 L460.09,205.01 L460.67,203.34 L461.24,201.67 L461.82,200.01 L462.40,198.35 L462.97,196.69 L463.55,195.03 L464.13,193.35 L464.71,191.67 L465.28,189.98 L465.86,188.27 L466.44,186.56 L467.02,184.83 L467.59,183.10 L468.17,181.36 L468.75,179.61 L469.32,177.85 L469.90,176.10 L470.48,174.34 L471.06,172.58 L471.63,170.83 L472.21,169.07 L472.79,167.33 L473.36,165.60 L473.94,163.87 L474.52,162.16 L475.10,160.46 L475.67,158.78 L476.25,157.11 L476.83,155.46 L477.40,153.84 L477.98,152.24 L478.56,150.66 L479.14,149.10 L479.71,147.57 L480.29,146.05 L480.87,144.56 L481.44,143.09 L482.02,141.64 L482.60,140.21 L483.18,138.81 L483.75,137.42 L484.33,136.05 L484.91,134.70 L485.48,133.37 L486.06,132.06 L486.64,130.77 L487.22,129.50 L487.79,128.24 L488.37,127.01 L488.95,125.79 L489.52,124.59 L490.10,123.41 L490.68,122.24 L491.26,121.10 L491.83,119.97 L492.41,118.85 L492.99,117.75 L493.56,116.67 L494.14,115.60 L494.72,114.55 L495.30,113.52 L495.87,112.50 L496.45,111.49 L497.03,110.50 L497.60,109.52 L498.18,108.55 L498.76,107.59 L499.34,106.64 L499.91,105.69 L500.49,104.74 L501.07,103.80 L501.64,102.85 L502.22,101.90 L502.80,100.95 L503.38,100.00 L503.95,99.04 L504.53,98.07 L505.11,97.10 L505.68,96.13 L506.26,95.16 L506.84,94.19 L507.42,93.23 L507.99,92.28 L508.57,91.34 L509.15,90.41 L509.72,89.49 L510.30,88.60 L510.88,87.72 L511.46,86.87 L512.03,86.03 L512.61,85.23 L513.19,84.46 L513.76,83.71 L514.34,82.98 L514.92,82.28 L515.50,81.59 L516.07,80.93 L516.65,80.27 L517.23,79.63 L517.80,79.00 L518.38,78.37 L518.96,77.75 L519.54,77.13 L520.11,76.51 L520.69,75.89 L521.27,75.27 L521.84,74.64 L522.42,74.02 L523.00,73.40 L523.58,72.77 L524.15,72.16 L524.73,71.54 L525.31,70.93 L525.88,70.33 L526.46,69.73 L527.04,69.14 L527.62,68.56 L528.19,67.99 L528.77,67.43 L529.35,66.89 L529.92,66.36 L530.50,65.84 L531.08,65.33 L531.66,64.84 L532.23,64.36 L532.81,63.89 L533.39,63.44 L533.96,62.99 L534.54,62.54 L535.12,62.11 L535.70,61.68 L536.27,61.25 L536.85,60.82 L537.43,60.40 L538.01,59.97 L538.58,59.55 L539.16,59.12 L539.74,58.69 L540.31,58.25 L540.89,57.81 L541.47,57.36 L542.05,56.91 L542.62,56.45 L543.20,55.99 L543.78,55.53 L544.35,55.07 L544.93,54.61 L545.51,54.16 L546.09,53.70 L546.66,53.25 L547.24,52.81 L547.82,52.36 L548.39,51.93 L548.97,51.51 L549.55,51.09 L550.13,50.68 L550.70,50.29 L551.28,49.90 L551.86,49.53 L552.43,49.17 L553.01,48.82 L553.59,48.48 L554.17,48.15 L554.74,47.83 L555.32,47.51 L555.90,47.21 L556.47,46.91 L557.05,46.62 L557.63,46.33 L558.21,46.05 L558.78,45.78 L559.36,45.51 L559.94,45.24 L560.51,44.97 L561.09,44.71 L561.67,44.44 L562.25,44.18 L562.82,43.92 L563.40,43.66 L563.98,43.40 L564.55,43.13 L565.13,42.87 L565.71,42.60 L566.29,42.33 L566.86,42.05 L567.44,41.78 L568.02,41.51 L568.59,41.24 L569.17,40.97 L569.75,40.70 L570.33,40.44 L570.90,40.18 L571.48,39.93 L572.06,39.68 L572.63,39.44 L573.21,39.19 L573.79,38.96 L574.37,38.72 L574.94,38.49 L575.52,38.26 L576.10,38.04 L576.67,37.82 L577.25,37.60 L577.83,37.39 L578.41,37.18 L578.98,36.97 L579.56,36.77 L580.14,36.57 L580.71,36.37 L581.29,36.18 L581.87,35.99 L582.45,35.80 L583.02,35.61 L583.60,35.43 L584.18,35.25 L584.75,35.07 L585.33,34.90 L585.91,34.73 L586.49,34.56 L587.06,34.39 L587.64,34.22 L588.22,34.06 L588.79,33.90 L589.37,33.74 L589.95,33.59 L590.53,33.43 L591.10,33.28 L591.68,33.13 L592.26,32.98 L592.83,32.84 L593.41,32.70 L593.99,32.56 L594.57,32.42 L595.14,32.28 L595.72,32.15 L596.30,32.01 L596.87,31.88 L597.45,31.75 L598.03,31.63 L598.61,31.50 L599.18,31.38 L599.76,31.26 L600.34,31.14 L600.91,31.02 L601.49,30.90 L602.07,30.79 L602.65,30.67 L603.22,30.56 L603.80,30.45 L604.38,30.33 L604.95,30.22 L605.53,30.11 L606.11,30.00 L606.69,29.89 L607.26,29.77 L607.84,29.66 L608.42,29.55 L608.99,29.43 L609.57,29.32 L610.15,29.20 L610.73,29.09 L611.30,28.97 L611.88,28.85 L612.46,28.74 L613.04,28.62 L613.61,28.50 L614.19,28.38 L614.77,28.27 L615.34,28.15 L615.92,28.03 L616.50,27.91 L617.08,27.79 L617.65,27.68 L618.23,27.56 L618.81,27.44 L619.38,27.33 L619.96,27.21 L620.54,27.09 L621.12,26.98 L621.69,26.86 L622.27,26.75 L622.85,26.63 L623.42,26.52 L624.00,26.40 L624.58,26.29 L625.16,26.18 L625.73,26.07 L626.31,25.96 L626.89,25.85 L627.46,25.74 L628.04,25.63 L628.62,25.52 L629.20,25.42 L629.77,25.31 L630.35,25.20 L630.93,25.10 L631.50,25.00 L632.08,24.90 L632.66,24.80 L633.24,24.70 L633.81,24.60 L634.39,24.50 L634.97,24.41 L635.54,24.31 L636.12,24.22 L636.70,24.13 L637.28,24.04 L637.85,23.95 L638.43,23.86 L639.01,23.78 L639.58,23.69 L640.16,23.61 L640.74,23.52 L641.32,23.44 L641.89,23.36 L642.47,23.28 L643.05,23.21 L643.62,23.13 L644.20,23.06 L644.78,22.98 L645.36,22.91 L645.93,22.84 L646.51,22.77 L647.09,22.70 L647.66,22.63 L648.24,22.57 L648.82,22.50 L649.40,22.44 L649.97,22.37 L650.55,22.31 L651.13,22.25 L651.70,22.19 L652.28,22.14 L652.86,22.08 L653.44,22.02 L654.01,21.97 L654.59,21.92 L655.17,21.86 L655.74,21.81 L656.32,21.76 L656.90,21.71 L657.48,21.66 L658.05,21.60 L658.63,21.55 L659.21,21.50 L659.78,21.45 L660.36,21.40 L660.94,21.35 L661.52,21.30 L662.09,21.25 L662.67,21.20 L663.25,21.15 L663.82,21.09 L664.40,21.04 L664.98,20.99 L665.56,20.93 L666.13,20.87 L666.71,20.82 L667.29,20.76 L667.86,20.70 L668.44,20.64 L669.02,20.58 L669.60,20.51 L670.17,20.45 L670.75,20.39 L671.33,20.32 L671.90,20.26 L672.48,20.19 L673.06,20.13 L673.64,20.06 L674.21,20.00 L674.79,19.93 L675.37,19.87 L675.94,19.81 L676.52,19.75 L677.10,19.69 L677.68,19.63 L678.25,19.57 L678.83,19.51 L679.41,19.46 L679.98,19.40 L680.56,19.35 L681.14,19.29 L681.72,19.24 L682.29,19.19 L682.87,19.14 L683.45,19.08 L684.03,19.03 L684.60,18.98 L685.18,18.94 L685.76,18.89 L686.33,18.84 L686.91,18.79 L687.49,18.75 L688.07,18.70 L688.64,18.66 L689.22,18.62 L689.80,18.57 L690.37,18.53 L690.95,18.49 L691.53,18.45 L692.11,18.41 L692.68,18.37 L693.26,18.33 L693.84,18.29 L694.41,18.25 L694.99,18.21 L695.57,18.17 L696.15,18.14 L696.72,18.10 L697.30,18.06 L697.88,18.03 L698.45,17.99 L699.03,17.96 L699.61,17.92 L700.19,17.89 L700.76,17.86 L701.34,17.82 L701.92,17.79 L702.49,17.76 L703.07,17.73 L703.65,17.69 L704.23,17.66 L704.80,17.63 L705.38,17.60 L705.96,17.57" fill="none" stroke="#3a76b4" stroke-width="3.0" stroke-dasharray="12 9" stroke-dashoffset="1.5218368231183774" clip-path="url(#cb)"/>
<path d="M426.10,248.60 L431.90,258.40 L420.30,258.40 Z" fill="none" stroke="#3a76b4" stroke-width="1.9" stroke-linejoin="miter"/>
<path d="M466.15,225.30 L471.95,235.10 L460.35,235.10 Z" fill="none" stroke="#3a76b4" stroke-width="1.9" stroke-linejoin="miter"/>
<path d="M506.20,177.30 L512.00,187.10 L500.40,187.10 Z" fill="none" stroke="#3a76b4" stroke-width="1.9" stroke-linejoin="miter"/>
<path d="M546.25,77.40 L552.05,87.20 L540.45,87.20 Z" fill="none" stroke="#3a76b4" stroke-width="1.9" stroke-linejoin="miter"/>
<path d="M586.30,26.00 L592.10,35.80 L580.50,35.80 Z" fill="none" stroke="#3a76b4" stroke-width="1.9" stroke-linejoin="miter"/>
<path d="M626.35,9.50 L632.15,19.30 L620.55,19.30 Z" fill="none" stroke="#3a76b4" stroke-width="1.9" stroke-linejoin="miter"/>
<path d="M666.40,3.70 L672.20,13.50 L660.60,13.50 Z" fill="none" stroke="#3a76b4" stroke-width="1.9" stroke-linejoin="miter"/>
<rect x="421.30" y="242.20" width="9.6" height="9.6" fill="#3a76b4"/>
<rect x="461.35" y="181.80" width="9.6" height="9.6" fill="#3a76b4"/>
<rect x="501.40" y="85.80" width="9.6" height="9.6" fill="#3a76b4"/>
<rect x="541.45" y="49.80" width="9.6" height="9.6" fill="#3a76b4"/>
<rect x="581.50" y="29.70" width="9.6" height="9.6" fill="#3a76b4"/>
<rect x="621.55" y="21.40" width="9.6" height="9.6" fill="#3a76b4"/>
<rect x="661.60" y="13.90" width="9.6" height="9.6" fill="#3a76b4"/>
<rect x="701.65" y="9.50" width="9.6" height="9.6" fill="#3a76b4"/>
<path d="M44.2,0.5 H347.2" stroke="#000" stroke-width="1.6" fill="none"/><path d="M44.2,271.9 H347.2" stroke="#555" stroke-width="1.8" fill="none"/><path d="M44.2,0 V272.8" stroke="#333" stroke-width="1.5" fill="none"/><path d="M347.2,0 V272.8" stroke="#333" stroke-width="1.5" fill="none"/><path d="M55.20,271 V265.8 M55.20,0 V6" stroke="#222" stroke-width="1.1" fill="none"/><path d="M111.32,271 V265.8 M111.32,0 V6" stroke="#222" stroke-width="1.1" fill="none"/><path d="M167.44,271 V265.8 M167.44,0 V6" stroke="#222" stroke-width="1.1" fill="none"/><path d="M223.56,271 V265.8 M223.56,0 V6" stroke="#222" stroke-width="1.1" fill="none"/><path d="M279.68,271 V265.8 M279.68,0 V6" stroke="#222" stroke-width="1.1" fill="none"/><path d="M335.80,271 V265.8 M335.80,0 V6" stroke="#222" stroke-width="1.1" fill="none"/><path d="M44.2,221.90 H50.2 M347.2,221.90 H341.2" stroke="#222" stroke-width="1.1" fill="none"/><path d="M44.2,169.00 H50.2 M347.2,169.00 H341.2" stroke="#222" stroke-width="1.1" fill="none"/><path d="M44.2,116.10 H50.2 M347.2,116.10 H341.2" stroke="#222" stroke-width="1.1" fill="none"/><path d="M44.2,63.20 H50.2 M347.2,63.20 H341.2" stroke="#222" stroke-width="1.1" fill="none"/><path d="M44.2,10.30 H50.2 M347.2,10.30 H341.2" stroke="#222" stroke-width="1.1" fill="none"/>
<path d="M415.1,0.5 H717.1" stroke="#000" stroke-width="1.6" fill="none"/><path d="M415.1,271.9 H717.1" stroke="#555" stroke-width="1.8" fill="none"/><path d="M415.1,0 V272.8" stroke="#333" stroke-width="1.5" fill="none"/><path d="M717.1,0 V272.8" stroke="#333" stroke-width="1.5" fill="none"/><path d="M426.10,271 V265.8 M426.10,0 V6" stroke="#222" stroke-width="1.1" fill="none"/><path d="M466.15,271 V265.8 M466.15,0 V6" stroke="#222" stroke-width="1.1" fill="none"/><path d="M506.20,271 V265.8 M506.20,0 V6" stroke="#222" stroke-width="1.1" fill="none"/><path d="M546.25,271 V265.8 M546.25,0 V6" stroke="#222" stroke-width="1.1" fill="none"/><path d="M586.30,271 V265.8 M586.30,0 V6" stroke="#222" stroke-width="1.1" fill="none"/><path d="M626.35,271 V265.8 M626.35,0 V6" stroke="#222" stroke-width="1.1" fill="none"/><path d="M666.40,271 V265.8 M666.40,0 V6" stroke="#222" stroke-width="1.1" fill="none"/><path d="M706.45,271 V265.8 M706.45,0 V6" stroke="#222" stroke-width="1.1" fill="none"/><path d="M415.1,221.90 H421.1 M717.1,221.90 H711.1" stroke="#222" stroke-width="1.1" fill="none"/><path d="M415.1,169.00 H421.1 M717.1,169.00 H711.1" stroke="#222" stroke-width="1.1" fill="none"/><path d="M415.1,116.10 H421.1 M717.1,116.10 H711.1" stroke="#222" stroke-width="1.1" fill="none"/><path d="M415.1,63.20 H421.1 M717.1,63.20 H711.1" stroke="#222" stroke-width="1.1" fill="none"/><path d="M415.1,10.30 H421.1 M717.1,10.30 H711.1" stroke="#222" stroke-width="1.1" fill="none"/>
<text x="55.20" y="289.20" font-family="Liberation Sans, sans-serif" font-size="11.5" text-anchor="middle" fill="#111" >0</text>
<text x="111.32" y="289.20" font-family="Liberation Sans, sans-serif" font-size="11.5" text-anchor="middle" fill="#111" >2</text>
<text x="167.44" y="289.20" font-family="Liberation Sans, sans-serif" font-size="11.5" text-anchor="middle" fill="#111" >4</text>
<text x="223.56" y="289.20" font-family="Liberation Sans, sans-serif" font-size="11.5" text-anchor="middle" fill="#111" >6</text>
<text x="279.68" y="289.20" font-family="Liberation Sans, sans-serif" font-size="11.5" text-anchor="middle" fill="#111" >8</text>
<text x="335.80" y="289.20" font-family="Liberation Sans, sans-serif" font-size="11.5" text-anchor="middle" fill="#111" >10</text>
<text x="426.10" y="289.20" font-family="Liberation Sans, sans-serif" font-size="11.5" text-anchor="middle" fill="#111" >0</text>
<text x="466.15" y="289.20" font-family="Liberation Sans, sans-serif" font-size="11.5" text-anchor="middle" fill="#111" >1</text>
<text x="506.20" y="289.20" font-family="Liberation Sans, sans-serif" font-size="11.5" text-anchor="middle" fill="#111" >2</text>
<text x="546.25" y="289.20" font-family="Liberation Sans, sans-serif" font-size="11.5" text-anchor="middle" fill="#111" >3</text>
<text x="586.30" y="289.20" font-family="Liberation Sans, sans-serif" font-size="11.5" text-anchor="middle" fill="#111" >4</text>
<text x="626.35" y="289.20" font-family="Liberation Sans, sans-serif" font-size="11.5" text-anchor="middle" fill="#111" >5</text>
<text x="666.40" y="289.20" font-family="Liberation Sans, sans-serif" font-size="11.5" text-anchor="middle" fill="#111" >6</text>
<text x="706.45" y="289.20" font-family="Liberation Sans, sans-serif" font-size="11.5" text-anchor="middle" fill="#111" >7</text>
<text x="41.00" y="226.60" font-family="Liberation Sans, sans-serif" font-size="12" text-anchor="end" fill="#111" >0.2</text>
<text x="411.30" y="226.60" font-family="Liberation Sans, sans-serif" font-size="12" text-anchor="end" fill="#111" >0.2</text>
<text x="41.00" y="173.70" font-family="Liberation Sans, sans-serif" font-size="12" text-anchor="end" fill="#111" >0.4</text>
<text x="411.30" y="173.70" font-family="Liberation Sans, sans-serif" font-size="12" text-anchor="end" fill="#111" >0.4</text>
<text x="41.00" y="120.80" font-family="Liberation Sans, sans-serif" font-size="12" text-anchor="end" fill="#111" >0.6</text>
<text x="411.30" y="120.80" font-family="Liberation Sans, sans-serif" font-size="12" text-anchor="end" fill="#111" >0.6</text>
<text x="41.00" y="67.90" font-family="Liberation Sans, sans-serif" font-size="12" text-anchor="end" fill="#111" >0.8</text>
<text x="411.30" y="67.90" font-family="Liberation Sans, sans-serif" font-size="12" text-anchor="end" fill="#111" >0.8</text>
<text x="41.00" y="15.00" font-family="Liberation Sans, sans-serif" font-size="12" text-anchor="end" fill="#111" >1.0</text>
<text x="411.30" y="15.00" font-family="Liberation Sans, sans-serif" font-size="12" text-anchor="end" fill="#111" >1.0</text>
<text x="152.8" y="312" font-family="Liberation Sans, sans-serif" font-size="15" fill="#111"><tspan font-style="italic">v</tspan> sin <tspan font-style="italic">i</tspan> <tspan font-size="17.5">(</tspan>km/s<tspan font-size="17.5">)</tspan></text>
<text x="523.4" y="312" font-family="Liberation Sans, sans-serif" font-size="15" fill="#111"><tspan font-style="italic">v</tspan> sin <tspan font-style="italic">i</tspan> <tspan font-size="17.5">(</tspan>km/s<tspan font-size="17.5">)</tspan></text>
<text x="0" y="0" font-family="Liberation Serif, serif" font-size="15" text-anchor="middle" fill="#111" transform="translate(5.5,135) rotate(-90) translate(0,5)">&#934;</text>
<text x="0" y="0" font-family="Liberation Serif, serif" font-size="15" text-anchor="middle" fill="#111" transform="translate(375.8,135) rotate(-90) translate(0,5)">&#934;</text>
<text x="57.00" y="26.80" font-family="Liberation Sans, sans-serif" font-size="13" text-anchor="start" fill="#111" >(a)</text>
<text x="427.50" y="26.70" font-family="Liberation Sans, sans-serif" font-size="13" text-anchor="start" fill="#111" >(b)</text>
<text x="293" y="86.4" font-family="Liberation Sans, sans-serif" font-size="14" font-weight="bold" text-anchor="end" fill="#111">dashed line</text><text x="293" y="108.1" font-family="Liberation Sans, sans-serif" font-size="14" font-weight="bold" text-anchor="end" fill="#111">solid line</text><text font-family="Liberation Serif, serif" font-size="19" fill="#111" transform="translate(298.4,87.7) scale(0.76,1)">&#934;</text><text font-family="Liberation Serif, serif" font-size="19" fill="#111" transform="translate(298.4,108.6) scale(0.76,1)">&#934;</text><text x="308.6" y="89.4" font-family="Liberation Sans, sans-serif" font-size="10" fill="#111">g</text><text x="308.8" y="111.3" font-family="Liberation Sans, sans-serif" font-size="10" fill="#111">w</text>
<text x="660.3" y="86.4" font-family="Liberation Sans, sans-serif" font-size="14" font-weight="bold" text-anchor="end" fill="#111">dashed line</text><text x="660.3" y="108.1" font-family="Liberation Sans, sans-serif" font-size="14" font-weight="bold" text-anchor="end" fill="#111">solid line</text><text font-family="Liberation Serif, serif" font-size="19" fill="#111" transform="translate(665.6999999999999,87.7) scale(0.76,1)">&#934;</text><text font-family="Liberation Serif, serif" font-size="19" fill="#111" transform="translate(665.6999999999999,108.6) scale(0.76,1)">&#934;</text><text x="675.9" y="89.4" font-family="Liberation Sans, sans-serif" font-size="10" fill="#111">g</text><text x="676.0999999999999" y="111.3" font-family="Liberation Sans, sans-serif" font-size="10" fill="#111">w</text>
<rect x="237.6" y="129.5" width="87.70000000000002" height="51.400000000000006" fill="#fff" stroke="#c8c8c8" stroke-width="1"/>
<circle cx="250.40" cy="147.40" r="3.4" fill="#f67878" stroke="#ee5c5c" stroke-width="0.8"/>
<path d="M250.40,159.90 L254.50,166.30 L246.30,166.30 Z" fill="none" stroke="#3a76b4" stroke-width="1.1" stroke-linejoin="miter"/>
<text x="263.90" y="151.30" font-family="Liberation Sans, sans-serif" font-size="13" text-anchor="start" fill="#111" textLength="55.1">kinematic</text>
<text x="263.90" y="168.40" font-family="Liberation Sans, sans-serif" font-size="13" text-anchor="start" fill="#111" textLength="51.2">Chemical</text>
<rect x="606.4" y="129.3" width="89.10000000000002" height="68.89999999999998" fill="#fff" stroke="#c8c8c8" stroke-width="1"/>
<circle cx="619.20" cy="147.20" r="3.4" fill="#f67878" stroke="#ee5c5c" stroke-width="0.8"/>
<path d="M619.00,159.80 L623.10,166.20 L614.90,166.20 Z" fill="none" stroke="#3a76b4" stroke-width="1.1" stroke-linejoin="miter"/>
<rect x="615.80" y="177.90" width="6.4" height="6.4" fill="#3a76b4"/>
<text x="632.20" y="151.00" font-family="Liberation Sans, sans-serif" font-size="13" text-anchor="start" fill="#111" textLength="55.0">kinematic</text>
<text x="632.10" y="168.30" font-family="Liberation Sans, sans-serif" font-size="13" text-anchor="start" fill="#111" textLength="49.6">Chemical</text>
<text x="632.10" y="185.30" font-family="Liberation Sans, sans-serif" font-size="13" text-anchor="start" fill="#111" textLength="49.6">Chemical</text>
<text x="681.90" y="165.30" font-family="Liberation Sans, sans-serif" font-size="8.5" text-anchor="start" fill="#111" font-weight="bold">1</text>
<text x="682.20" y="181.30" font-family="Liberation Sans, sans-serif" font-size="8.5" text-anchor="start" fill="#111" font-weight="bold">2</text>
</svg>
</body></html>
